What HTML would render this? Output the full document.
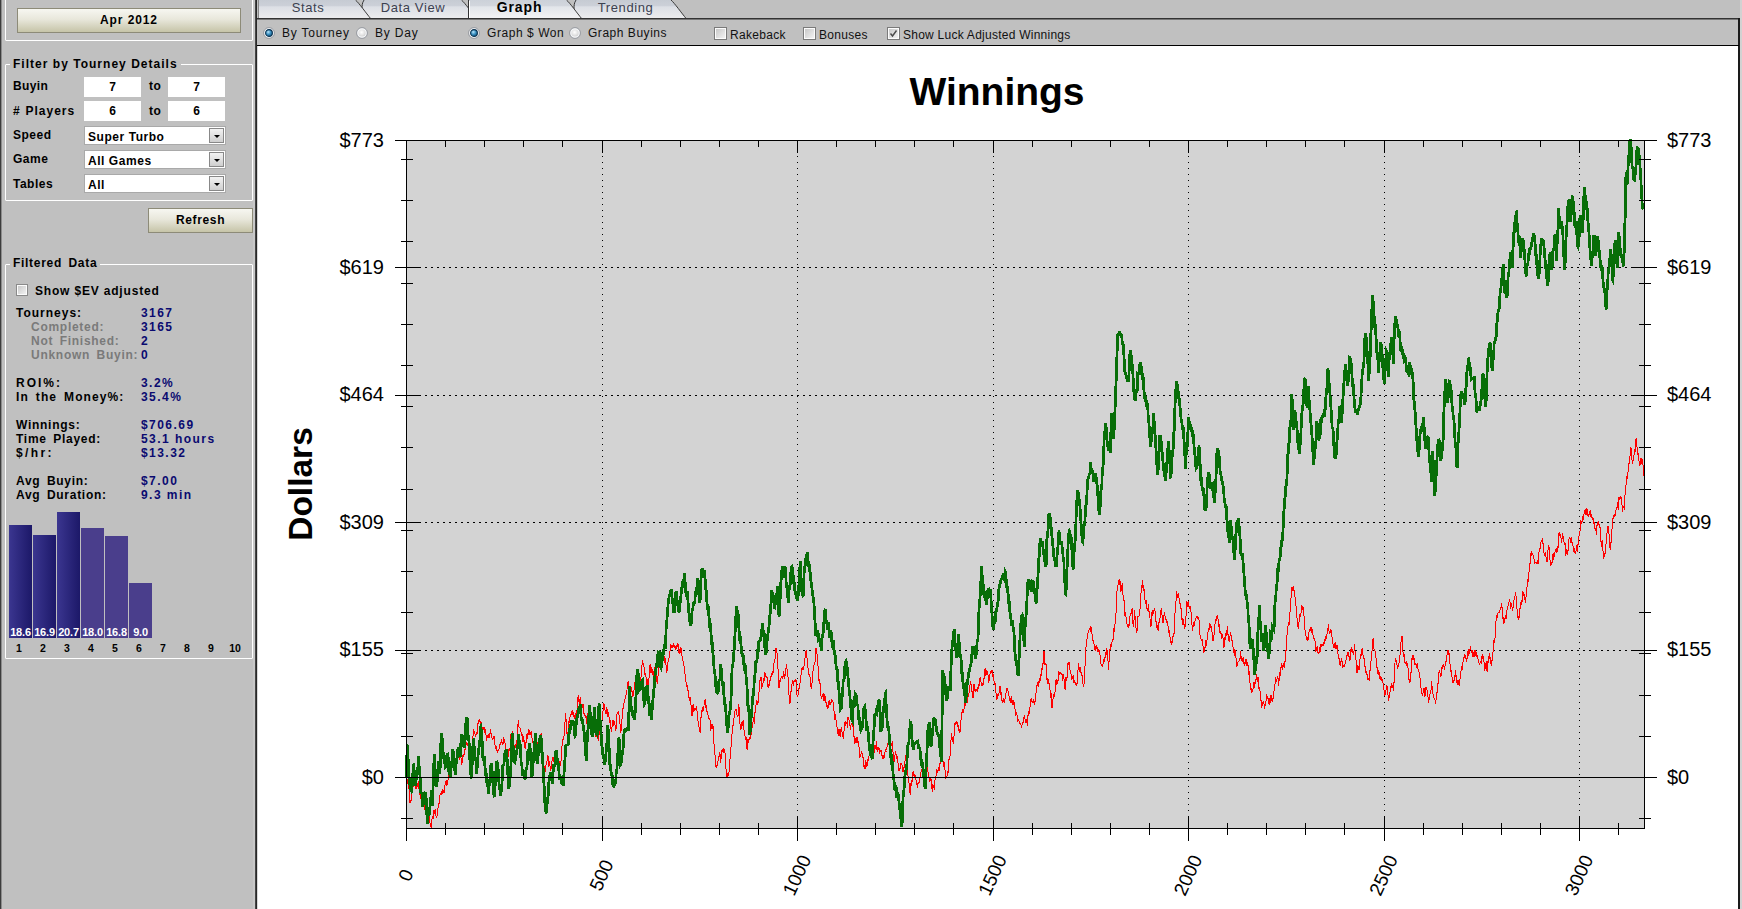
<!DOCTYPE html>
<html><head><meta charset="utf-8">
<style>
*{box-sizing:border-box}
html,body{margin:0;padding:0;width:1742px;height:909px;overflow:hidden;background:#c0c0c0;font-family:'Liberation Sans', sans-serif}
.a{position:absolute}
.b{font-weight:bold;font-size:11px;color:#000;white-space:nowrap}
.grp{position:absolute;border:1px solid #fff;border-radius:1px}
.inp{position:absolute;background:#fff;text-align:center;font:bold 12px 'Liberation Sans', sans-serif;line-height:20px}
.sel{position:absolute;background:#fff;border:1px solid #a9a9a9;font:bold 12px 'Liberation Sans', sans-serif;line-height:17px;padding:2px 0 0 3px}
.dd{position:absolute;right:1px;top:1px;width:15px;height:15px;border:1px solid #888;background:linear-gradient(#f2f2f2,#cfcfcf)}
.dd:after{content:"";position:absolute;left:4px;top:6px;border-left:3px solid transparent;border-right:3px solid transparent;border-top:3px solid #000}
.btn{position:absolute;border:1px solid #8d8b78;background:linear-gradient(#f7f7f1,#e8e7db 45%,#c6c4a8);text-align:center;font:bold 12px 'Liberation Sans', sans-serif;letter-spacing:0.6px}
.lbl{position:absolute;font:bold 12px 'Liberation Sans', sans-serif;line-height:14px;letter-spacing:0.72px;word-spacing:2.5px;white-space:nowrap}
.val{position:absolute;font:bold 12px 'Liberation Sans', sans-serif;line-height:14px;letter-spacing:1.45px;color:#0a0a70;white-space:nowrap}
.sub{color:#7a7a7a}
.tab{position:absolute;top:0;height:18px;font:13px 'Liberation Sans', sans-serif;color:#3a3f50;text-align:center;line-height:16px}
.tb{position:absolute;font:12px 'Liberation Sans', sans-serif;line-height:14px;letter-spacing:0.8px;color:#111;white-space:nowrap}
.chk{position:absolute;width:13px;height:13px;border:1px solid #7a7a7a;padding:1px;background:linear-gradient(135deg,#c9c9c9,#f2f2f2) content-box,#fcfcfc}
.rad{position:absolute;width:12px;height:12px}
</style></head><body>
<!-- left panel -->
<div class="a" style="left:0;top:0;width:1px;height:909px;background:#3c3c3c"></div><div class="a" style="left:1px;top:0;width:1px;height:909px;background:#8c8c8c"></div>
<div class="grp" style="left:5px;top:-10px;width:248px;height:51px"></div>
<div class="btn" style="left:17px;top:8px;width:224px;height:25px;line-height:23px;letter-spacing:0.9px">Apr 2012</div>

<div class="grp" style="left:5px;top:64px;width:248px;height:137px"></div>
<div class="lbl" style="left:10px;top:57px;background:#c0c0c0;padding:0 3px;letter-spacing:1.02px;word-spacing:0">Filter by Tourney Details</div>
<div class="lbl" style="left:13px;top:79px;letter-spacing:0.35px">Buyin</div>
<div class="inp" style="left:84px;top:77px;width:57px;height:20px">7</div>
<div class="lbl" style="left:149px;top:79px;letter-spacing:0.5px">to</div>
<div class="inp" style="left:168px;top:77px;width:57px;height:20px">7</div>
<div class="lbl" style="left:13px;top:104px;letter-spacing:1.0px;word-spacing:0.5px">#&nbsp;Players</div>
<div class="inp" style="left:84px;top:101px;width:57px;height:20px">6</div>
<div class="lbl" style="left:149px;top:104px;letter-spacing:0.5px">to</div>
<div class="inp" style="left:168px;top:101px;width:57px;height:20px">6</div>
<div class="lbl" style="left:13px;top:128px;letter-spacing:0.5px">Speed</div>
<div class="sel" style="left:84px;top:126px;width:142px;height:19px;letter-spacing:0.55px">Super&nbsp;Turbo<div class="dd"></div></div>
<div class="lbl" style="left:13px;top:152px;letter-spacing:0.5px">Game</div>
<div class="sel" style="left:84px;top:150px;width:142px;height:19px;letter-spacing:0.55px">All Games<div class="dd"></div></div>
<div class="lbl" style="left:13px;top:177px;letter-spacing:0.5px">Tables</div>
<div class="sel" style="left:84px;top:174px;width:142px;height:19px;letter-spacing:0.55px">All<div class="dd"></div></div>
<div class="btn" style="left:148px;top:208px;width:105px;height:25px;line-height:23px;letter-spacing:0.65px">Refresh</div>

<div class="grp" style="left:5px;top:264px;width:248px;height:395px"></div>
<div class="lbl" style="left:10px;top:256px;background:#c0c0c0;padding:0 3px;letter-spacing:0.7px">Filtered Data</div>
<div class="chk" style="left:16px;top:284px;width:12px;height:12px;border-color:#8a8a8a"></div>
<div class="lbl" style="left:35px;top:284px;letter-spacing:0.82px;word-spacing:0">Show $EV adjusted</div>
<div class="lbl" style="left:16px;top:306px;letter-spacing:1.0px">Tourneys:</div><div class="val" style="left:141px;top:306px">3167</div>
<div class="lbl sub" style="left:31px;top:320px">Completed:</div><div class="val" style="left:141px;top:320px">3165</div>
<div class="lbl sub" style="left:31px;top:334px">Not Finished:</div><div class="val" style="left:141px;top:334px">2</div>
<div class="lbl sub" style="left:31px;top:348px">Unknown Buyin:</div><div class="val" style="left:141px;top:348px">0</div>
<div class="lbl" style="left:16px;top:376px;letter-spacing:1.97px">ROI%:</div><div class="val" style="left:141px;top:376px">3.2%</div>
<div class="lbl" style="left:16px;top:390px;letter-spacing:1.1px">In the Money%:</div><div class="val" style="left:141px;top:390px">35.4%</div>
<div class="lbl" style="left:16px;top:418px">Winnings:</div><div class="val" style="left:141px;top:418px">$706.69</div>
<div class="lbl" style="left:16px;top:432px">Time Played:</div><div class="val" style="left:141px;top:432px">53.1 hours</div>
<div class="lbl" style="left:16px;top:446px;letter-spacing:2.4px">$/hr:</div><div class="val" style="left:141px;top:446px">$13.32</div>
<div class="lbl" style="left:16px;top:474px">Avg Buyin:</div><div class="val" style="left:141px;top:474px">$7.00</div>
<div class="lbl" style="left:16px;top:488px">Avg Duration:</div><div class="val" style="left:141px;top:488px">9.3 min</div>
<div class="a" style="left:9px;top:525px;width:23px;height:113px;background:linear-gradient(90deg,#3b3690,#1c1868)"></div>
<div class="a" style="left:9px;top:626px;width:23px;text-align:center;font:bold 11px 'Liberation Sans', sans-serif;line-height:13px;color:#fff;letter-spacing:-0.2px">18.6</div>
<div class="a" style="left:33px;top:535px;width:23px;height:103px;background:linear-gradient(90deg,#3b3690,#1c1868)"></div>
<div class="a" style="left:33px;top:626px;width:23px;text-align:center;font:bold 11px 'Liberation Sans', sans-serif;line-height:13px;color:#fff;letter-spacing:-0.2px">16.9</div>
<div class="a" style="left:57px;top:512px;width:23px;height:126px;background:linear-gradient(90deg,#3b3690,#1c1868)"></div>
<div class="a" style="left:57px;top:626px;width:23px;text-align:center;font:bold 11px 'Liberation Sans', sans-serif;line-height:13px;color:#fff;letter-spacing:-0.2px">20.7</div>
<div class="a" style="left:81px;top:528px;width:23px;height:110px;background:#4a3e8c"></div>
<div class="a" style="left:81px;top:626px;width:23px;text-align:center;font:bold 11px 'Liberation Sans', sans-serif;line-height:13px;color:#fff;letter-spacing:-0.2px">18.0</div>
<div class="a" style="left:105px;top:536px;width:23px;height:102px;background:#4a3e8c"></div>
<div class="a" style="left:105px;top:626px;width:23px;text-align:center;font:bold 11px 'Liberation Sans', sans-serif;line-height:13px;color:#fff;letter-spacing:-0.2px">16.8</div>
<div class="a" style="left:129px;top:583px;width:23px;height:55px;background:#4a3e8c"></div>
<div class="a" style="left:129px;top:626px;width:23px;text-align:center;font:bold 11px 'Liberation Sans', sans-serif;line-height:13px;color:#fff;letter-spacing:-0.2px">9.0</div>
<div class="a" style="left:9px;top:642px;width:20px;text-align:center;font:bold 10.5px 'Liberation Sans', sans-serif;line-height:12px;color:#000">1</div>
<div class="a" style="left:33px;top:642px;width:20px;text-align:center;font:bold 10.5px 'Liberation Sans', sans-serif;line-height:12px;color:#000">2</div>
<div class="a" style="left:57px;top:642px;width:20px;text-align:center;font:bold 10.5px 'Liberation Sans', sans-serif;line-height:12px;color:#000">3</div>
<div class="a" style="left:81px;top:642px;width:20px;text-align:center;font:bold 10.5px 'Liberation Sans', sans-serif;line-height:12px;color:#000">4</div>
<div class="a" style="left:105px;top:642px;width:20px;text-align:center;font:bold 10.5px 'Liberation Sans', sans-serif;line-height:12px;color:#000">5</div>
<div class="a" style="left:129px;top:642px;width:20px;text-align:center;font:bold 10.5px 'Liberation Sans', sans-serif;line-height:12px;color:#000">6</div>
<div class="a" style="left:153px;top:642px;width:20px;text-align:center;font:bold 10.5px 'Liberation Sans', sans-serif;line-height:12px;color:#000">7</div>
<div class="a" style="left:177px;top:642px;width:20px;text-align:center;font:bold 10.5px 'Liberation Sans', sans-serif;line-height:12px;color:#000">8</div>
<div class="a" style="left:201px;top:642px;width:20px;text-align:center;font:bold 10.5px 'Liberation Sans', sans-serif;line-height:12px;color:#000">9</div>
<div class="a" style="left:225px;top:642px;width:20px;text-align:center;font:bold 10.5px 'Liberation Sans', sans-serif;line-height:12px;color:#000">10</div>
<!-- main area -->
<div class="a" style="left:253px;top:0;width:2px;height:909px;background:#c8c8c8"></div>
<div class="a" style="left:255px;top:0;width:2px;height:909px;background:linear-gradient(90deg,#555,#1a1a1a)"></div><div class="a" style="left:257px;top:46px;width:1px;height:863px;background:#d8d8d8"></div>
<div class="a" style="left:258px;top:0;width:1484px;height:19px;background:#c0c0c0"></div>
<svg class="a" style="left:0;top:0" width="1742" height="19" viewBox="0 0 1742 19"><defs><linearGradient id="tg" x1="0" y1="0" x2="0" y2="1"><stop offset="0" stop-color="#c6cbd3"/><stop offset="0.3" stop-color="#ccd0d8"/><stop offset="0.36" stop-color="#dcdfe5"/><stop offset="1" stop-color="#ededee"/></linearGradient><linearGradient id="tga" x1="0" y1="0" x2="0" y2="1"><stop offset="0" stop-color="#ccd1d9"/><stop offset="0.3" stop-color="#d2d6dd"/><stop offset="0.36" stop-color="#e2e5ea"/><stop offset="1" stop-color="#f4f4f5"/></linearGradient></defs>
<path d="M574 19 V0 H671.0 C674.5 3 681.5 13 686.5 19 Z" fill="url(#tg)"/>
<path d="M576 0 C574 3 574 6 574 9" stroke="#333" stroke-width="1" fill="none"/>
<path d="M671.0 0 C674.5 3 681.5 13 686.5 19" stroke="#3a3a3a" stroke-width="1" fill="none"/>
<path d="M362 19 V0 H461.5 C465.0 3 472 13 477 19 Z" fill="url(#tg)"/>
<path d="M364 0 C362 3 362 6 362 9" stroke="#333" stroke-width="1" fill="none"/>
<path d="M461.5 0 C465.0 3 472 13 477 19" stroke="#3a3a3a" stroke-width="1" fill="none"/>
<path d="M258 19 V0 H355.5 C359.0 3 366 13 371 19 Z" fill="url(#tg)"/>
<path d="M258.5 19 V0" stroke="#888" stroke-width="1" fill="none"/>
<path d="M355.5 0 C359.0 3 366 13 371 19" stroke="#3a3a3a" stroke-width="1" fill="none"/>
<path d="M468 19 V0 H566.5 C570.0 3 577 13 582 19 Z" fill="url(#tga)"/>
<path d="M468.5 19 V0" stroke="#333" stroke-width="1" fill="none"/><path d="M469.5 19 V1" stroke="#fff" stroke-width="1" fill="none"/>
<path d="M566.5 0 C570.0 3 577 13 582 19" stroke="#3a3a3a" stroke-width="1" fill="none"/>
</svg>
<div class="a" style="left:575.6px;top:-1px;width:100px;text-align:center;font:13px 'Liberation Sans', sans-serif;letter-spacing:0.6px;line-height:17px;color:#3c4150">Trending</div>
<div class="a" style="left:363px;top:-1px;width:100px;text-align:center;font:13px 'Liberation Sans', sans-serif;letter-spacing:0.6px;line-height:17px;color:#3c4150">Data View</div>
<div class="a" style="left:258px;top:-1px;width:100px;text-align:center;font:13px 'Liberation Sans', sans-serif;letter-spacing:0.6px;line-height:17px;color:#3c4150">Stats</div>
<div class="a" style="left:469.5px;top:-1px;width:100px;text-align:center;font:bold 14px 'Liberation Sans', sans-serif;letter-spacing:0.9px;line-height:17px;color:#000">Graph</div>
<div class="a" style="left:257px;top:18px;width:1483px;height:1px;background:#333"></div><div class="a" style="left:257px;top:19px;width:1483px;height:1px;background:#777"></div>
<div class="a" style="left:257px;top:20px;width:1482px;height:25px;background:#c0c0c0"></div>
<div class="a" style="left:1738px;top:18px;width:2px;height:891px;background:#1a1a1a"></div>
<div class="a" style="left:1740px;top:0;width:2px;height:909px;background:#d2d2d2"></div>
<div class="a" style="left:257px;top:45px;width:1482px;height:1px;background:#000"></div>
<div class="a" style="left:258px;top:46px;width:1480px;height:863px;background:#fff"></div>
<svg width="0" height="0" style="position:absolute"><defs><radialGradient id="rgon" cx="0.4" cy="0.35" r="0.7"><stop offset="0" stop-color="#b8e4fa"/><stop offset="0.5" stop-color="#3d93c4"/><stop offset="1" stop-color="#125580"/></radialGradient><radialGradient id="rgoff" cx="0.45" cy="0.4" r="0.7"><stop offset="0" stop-color="#ffffff"/><stop offset="0.6" stop-color="#e2e2e2"/><stop offset="1" stop-color="#c8c8c8"/></radialGradient></defs></svg>
<svg class="rad" style="left:263px;top:27px" width="12" height="12" viewBox="0 0 12 12"><circle cx="6" cy="6" r="5.4" fill="#f4f6f8" stroke="#8c9096" stroke-width="0.9"/><circle cx="6" cy="6" r="3.4" fill="url(#rgon)" stroke="#0b324f" stroke-width="1.1"/></svg><div class="tb" style="left:282px;top:26px">By Tourney</div>
<svg class="rad" style="left:356px;top:27px" width="12" height="12" viewBox="0 0 12 12"><circle cx="6" cy="6" r="5.4" fill="#f4f6f8" stroke="#8c9096" stroke-width="0.9"/><circle cx="6" cy="6" r="3.6" fill="url(#rgoff)"/></svg><div class="tb" style="left:375px;top:26px">By Day</div>
<svg class="rad" style="left:468px;top:27px" width="12" height="12" viewBox="0 0 12 12"><circle cx="6" cy="6" r="5.4" fill="#f4f6f8" stroke="#8c9096" stroke-width="0.9"/><circle cx="6" cy="6" r="3.4" fill="url(#rgon)" stroke="#0b324f" stroke-width="1.1"/></svg><div class="tb" style="left:487px;top:26px;letter-spacing:0.56px">Graph $ Won</div>
<svg class="rad" style="left:569px;top:27px" width="12" height="12" viewBox="0 0 12 12"><circle cx="6" cy="6" r="5.4" fill="#f4f6f8" stroke="#8c9096" stroke-width="0.9"/><circle cx="6" cy="6" r="3.6" fill="url(#rgoff)"/></svg><div class="tb" style="left:588px;top:26px;letter-spacing:0.53px">Graph Buyins</div>
<div class="chk" style="left:714px;top:27px"></div><div class="tb" style="left:730px;top:28px;letter-spacing:0.3px">Rakeback</div>
<div class="chk" style="left:803px;top:27px"></div><div class="tb" style="left:819px;top:28px;letter-spacing:0.3px">Bonuses</div>
<div class="chk" style="left:887px;top:27px"></div><svg class="a" style="left:887px;top:27px" width="13" height="13" viewBox="0 0 13 13"><path d="M3.5 6.5 L5.5 9 L9.5 3.5" stroke="#4a4a4a" stroke-width="1.4" fill="none"/></svg><div class="tb" style="left:903px;top:28px;letter-spacing:0.25px">Show Luck Adjusted Winnings</div>
<svg class="a" style="left:0;top:0" width="1742" height="909" viewBox="0 0 1742 909" shape-rendering="crispEdges">
<rect x="406.5" y="140.5" width="1238.0" height="688.0" fill="#d3d3d3"/>
<line x1="602.5" y1="144" x2="602.5" y2="828.5" stroke="#000" stroke-width="1" stroke-dasharray="1 5"/>
<line x1="797.5" y1="144" x2="797.5" y2="828.5" stroke="#000" stroke-width="1" stroke-dasharray="1 5"/>
<line x1="993.5" y1="144" x2="993.5" y2="828.5" stroke="#000" stroke-width="1" stroke-dasharray="1 5"/>
<line x1="1188.5" y1="144" x2="1188.5" y2="828.5" stroke="#000" stroke-width="1" stroke-dasharray="1 5"/>
<line x1="1384.5" y1="144" x2="1384.5" y2="828.5" stroke="#000" stroke-width="1" stroke-dasharray="1 5"/>
<line x1="1579.5" y1="144" x2="1579.5" y2="828.5" stroke="#000" stroke-width="1" stroke-dasharray="1 5"/>
<line x1="407" y1="650.5" x2="1644.5" y2="650.5" stroke="#000" stroke-width="1" stroke-dasharray="2 4"/>
<line x1="407" y1="522.5" x2="1644.5" y2="522.5" stroke="#000" stroke-width="1" stroke-dasharray="2 4"/>
<line x1="407" y1="395.5" x2="1644.5" y2="395.5" stroke="#000" stroke-width="1" stroke-dasharray="2 4"/>
<line x1="407" y1="267.5" x2="1644.5" y2="267.5" stroke="#000" stroke-width="1" stroke-dasharray="2 4"/>
<polyline points="406.5,777.5 406.8,775.2 407.1,780.0 407.5,779.5 407.9,784.1 408.2,782.7 408.6,788.5 409.0,788.6 409.4,795.1 409.8,802.6 410.3,801.3 410.7,802.2 411.1,800.0 411.5,791.9 411.8,791.0 412.2,786.7 412.6,785.5 412.9,786.3 413.3,785.7 413.7,787.4 414.1,785.1 414.5,782.9 414.9,783.2 415.3,785.4 415.7,788.4 416.1,788.6 416.5,784.7 416.8,781.6 417.2,784.5 417.6,782.6 417.9,786.8 418.3,781.4 418.7,786.6 419.1,789.4 419.5,794.2 419.9,793.6 420.4,796.9 420.8,798.8 421.2,799.9 421.6,797.8 422.0,795.0 422.4,795.4 422.8,798.9 423.2,801.3 423.5,803.7 423.9,806.4 424.3,803.3 424.7,808.6 425.1,810.4 425.5,809.3 425.8,809.0 426.2,814.0 426.6,816.2 427.0,812.0 427.4,818.5 427.8,812.5 428.2,817.6 428.6,819.8 429.1,815.4 429.5,818.9 429.9,822.5 430.3,825.3 430.7,826.7 431.1,827.0 431.5,824.6 431.9,819.5 432.3,817.2 432.8,818.5 433.2,814.9 433.6,818.6 434.0,810.0 434.4,813.5 434.7,811.8 435.1,809.1 435.5,813.4 435.9,815.8 436.2,817.3 436.6,817.0 437.0,816.0 437.4,810.2 437.8,809.3 438.2,807.3 438.6,802.7 439.0,804.0 439.4,795.7 439.8,795.4 440.2,794.5 440.7,794.5 441.1,793.2 441.5,794.1 441.9,791.4 442.3,789.2 442.7,792.0 443.2,790.8 443.6,791.1 444.0,793.0 444.4,787.4 444.8,788.4 445.3,780.6 445.7,782.5 446.1,780.0 446.5,783.5 446.8,785.0 447.2,784.9 447.6,783.5 447.9,781.5 448.3,774.3 448.7,772.3 449.1,769.1 449.5,766.6 449.8,766.1 450.2,763.3 450.6,763.8 451.0,762.9 451.4,761.3 451.8,762.6 452.1,764.2 452.5,759.5 452.9,758.4 453.3,768.6 453.7,767.6 454.1,768.1 454.5,764.0 454.9,766.3 455.3,770.6 455.7,771.6 456.1,770.0 456.5,769.1 456.9,761.4 457.3,761.0 457.7,757.5 458.1,756.5 458.5,755.3 458.8,753.7 459.2,758.5 459.6,759.3 460.0,754.6 460.4,754.3 460.8,757.3 461.2,758.1 461.6,763.8 462.0,763.3 462.4,758.0 462.8,755.0 463.2,757.1 463.6,754.4 464.0,755.7 464.4,749.9 464.8,750.7 465.2,749.3 465.7,745.6 466.1,743.1 466.5,741.7 466.9,744.3 467.3,744.8 467.7,743.8 468.0,744.0 468.4,746.8 468.8,748.1 469.2,753.8 469.6,751.0 470.0,753.5 470.3,753.7 470.7,751.1 471.1,752.9 471.5,750.9 471.9,749.4 472.3,746.3 472.8,738.3 473.2,734.0 473.6,730.5 474.0,731.4 474.4,731.4 474.8,731.5 475.3,736.5 475.7,736.3 476.1,734.3 476.5,733.5 476.9,734.5 477.3,733.3 477.7,725.7 478.1,722.5 478.5,724.3 478.9,719.9 479.3,721.2 479.7,720.0 480.1,721.7 480.4,729.0 480.8,726.0 481.2,723.2 481.5,722.3 481.9,728.6 482.2,727.5 482.6,729.6 482.9,729.2 483.3,729.5 483.7,727.9 484.1,726.7 484.5,730.3 485.0,733.2 485.4,728.8 485.8,731.0 486.2,738.2 486.6,741.0 487.0,736.2 487.4,737.2 487.8,736.5 488.2,733.8 488.6,735.6 489.1,738.4 489.5,735.0 489.9,733.9 490.3,731.0 490.7,729.5 491.1,735.6 491.5,734.7 491.9,737.3 492.4,738.8 492.8,739.7 493.2,736.4 493.6,739.2 494.0,736.0 494.4,741.3 494.8,743.8 495.2,747.0 495.6,748.2 496.1,748.0 496.5,747.3 496.9,750.1 497.3,752.6 497.7,751.9 498.1,749.3 498.5,750.3 499.0,749.2 499.4,748.0 499.8,745.5 500.2,743.8 500.6,744.4 501.0,742.6 501.4,739.0 501.7,740.9 502.1,742.9 502.5,743.6 502.9,745.0 503.3,741.1 503.6,738.4 504.0,738.9 504.4,739.4 504.8,739.3 505.2,745.2 505.6,742.9 506.0,751.4 506.4,752.0 506.8,754.3 507.2,754.9 507.6,754.5 508.0,757.6 508.4,751.0 508.8,749.8 509.2,750.3 509.5,749.3 509.9,749.1 510.3,744.1 510.7,737.7 511.1,733.1 511.5,736.7 511.8,737.7 512.2,731.5 512.6,737.3 513.0,739.4 513.4,743.4 513.8,747.1 514.2,751.9 514.7,746.3 515.1,746.8 515.5,744.4 515.9,747.8 516.3,746.8 516.7,743.5 517.1,739.3 517.5,728.7 517.9,725.8 518.3,719.6 518.7,724.7 519.1,727.7 519.5,727.8 519.9,726.9 520.4,731.1 520.8,729.7 521.2,733.9 521.6,735.1 522.0,734.5 522.4,735.7 522.8,741.7 523.1,736.1 523.5,738.7 523.9,741.2 524.3,740.2 524.6,745.2 525.0,747.5 525.4,749.3 525.8,743.0 526.2,742.2 526.6,735.0 527.0,733.9 527.5,738.6 527.9,732.7 528.3,735.2 528.7,728.7 529.1,730.5 529.5,734.6 529.9,731.2 530.3,733.9 530.8,732.8 531.2,732.3 531.6,736.8 532.0,738.1 532.4,741.0 532.8,742.7 533.2,742.8 533.6,747.0 534.0,746.2 534.5,744.0 534.9,742.9 535.3,744.2 535.7,744.6 536.1,736.0 536.5,736.7 536.9,739.1 537.3,749.0 537.7,747.9 538.1,747.9 538.5,744.8 538.9,745.5 539.3,740.3 539.7,738.4 540.1,739.0 540.4,734.7 540.8,734.7 541.2,733.3 541.6,738.5 542.0,744.9 542.4,753.2 542.8,754.6 543.2,757.8 543.6,766.9 544.0,765.6 544.4,772.4 544.8,768.9 545.2,772.3 545.6,766.6 546.0,764.9 546.5,764.0 546.9,762.8 547.3,755.8 547.7,755.9 548.1,756.5 548.5,763.3 548.9,767.0 549.4,761.1 549.8,763.2 550.2,768.6 550.6,769.9 551.0,769.1 551.4,764.3 551.8,762.9 552.2,759.6 552.6,758.5 553.1,757.3 553.5,761.6 553.9,758.1 554.3,759.2 554.7,756.3 555.1,758.2 555.4,762.7 555.8,761.7 556.2,758.5 556.6,759.5 556.9,760.5 557.3,759.3 557.7,761.7 558.1,762.8 558.4,766.1 558.8,762.3 559.2,765.8 559.6,767.3 560.0,761.5 560.5,765.5 560.9,763.3 561.3,755.9 561.7,749.3 562.1,745.4 562.5,741.9 562.9,739.8 563.3,739.6 563.8,737.6 564.2,735.2 564.6,730.6 565.0,722.3 565.4,718.5 565.8,713.0 566.2,724.3 566.6,724.1 567.1,736.2 567.5,734.5 567.9,732.5 568.3,731.3 568.6,726.2 569.0,721.5 569.4,723.3 569.8,718.3 570.1,716.7 570.5,715.6 570.9,716.6 571.3,710.9 571.6,714.3 572.0,712.4 572.4,714.7 572.8,710.1 573.2,714.3 573.6,714.3 574.0,717.3 574.5,715.5 574.9,718.8 575.3,719.3 575.7,713.0 576.1,717.9 576.5,711.9 577.0,709.7 577.4,705.3 577.8,700.0 578.2,694.9 578.6,698.2 579.0,701.7 579.4,705.0 579.8,699.5 580.2,702.5 580.6,697.4 581.0,704.7 581.4,705.3 581.8,708.5 582.2,707.7 582.6,707.4 583.0,704.2 583.4,710.4 583.8,710.7 584.2,716.0 584.5,714.6 584.9,715.6 585.3,715.7 585.7,716.8 586.1,716.5 586.4,720.2 586.8,723.9 587.2,719.8 587.6,717.9 588.0,712.9 588.4,716.3 588.8,711.5 589.2,712.7 589.6,712.9 590.0,712.3 590.4,707.4 590.8,715.3 591.2,716.7 591.6,721.0 592.0,726.6 592.4,725.0 592.8,723.5 593.2,728.8 593.6,734.8 594.0,731.2 594.4,730.1 594.8,732.7 595.1,731.4 595.5,735.3 595.9,736.6 596.3,735.6 596.7,737.2 597.1,734.8 597.5,738.5 597.9,733.3 598.3,734.9 598.7,740.8 599.1,731.7 599.5,734.8 599.9,726.7 600.3,723.5 600.7,725.8 601.1,725.6 601.5,723.8 601.9,721.1 602.3,717.6 602.7,715.2 603.1,710.4 603.5,708.2 603.9,702.8 604.3,707.7 604.7,706.4 605.2,711.9 605.6,713.4 606.0,713.8 606.4,708.8 606.8,706.7 607.2,710.6 607.6,714.0 608.0,716.7 608.4,712.5 608.8,714.8 609.1,717.7 609.5,719.8 609.9,722.5 610.3,720.8 610.7,721.6 611.1,730.5 611.5,731.0 611.9,728.1 612.3,724.2 612.6,722.6 613.0,719.7 613.4,725.7 613.8,721.0 614.2,724.7 614.6,722.0 614.9,722.5 615.3,730.4 615.7,729.3 616.1,728.2 616.5,717.2 616.9,714.9 617.2,713.1 617.6,712.5 618.0,712.3 618.4,711.8 618.8,711.8 619.2,717.8 619.6,720.1 620.0,723.6 620.4,729.2 620.8,732.9 621.2,730.0 621.6,722.7 622.0,719.3 622.4,709.9 622.8,712.7 623.1,706.5 623.5,709.0 623.9,703.8 624.3,699.9 624.7,701.0 625.1,698.3 625.5,695.5 625.9,694.9 626.3,694.3 626.6,692.0 627.0,689.6 627.4,683.6 627.8,683.4 628.2,681.0 628.5,686.2 628.9,694.0 629.3,701.0 629.7,695.8 630.1,693.6 630.5,692.1 630.9,685.7 631.3,690.2 631.7,691.7 632.1,691.7 632.5,696.5 632.9,696.3 633.3,693.2 633.7,692.2 634.2,688.6 634.6,688.4 635.0,681.8 635.4,681.6 635.8,678.6 636.2,677.3 636.6,676.2 637.0,676.0 637.4,670.1 637.8,672.5 638.2,672.0 638.6,678.5 639.0,678.7 639.4,682.3 639.8,682.4 640.2,682.2 640.6,678.1 641.0,676.7 641.4,674.9 641.8,666.1 642.2,664.7 642.6,661.8 643.0,662.6 643.4,665.8 643.8,664.4 644.1,668.3 644.5,672.3 644.9,674.6 645.3,673.1 645.7,673.2 646.1,678.6 646.5,685.2 646.9,690.4 647.2,685.5 647.6,678.7 648.0,686.1 648.4,682.5 648.7,681.2 649.1,677.1 649.4,670.0 649.8,665.5 650.2,665.2 650.6,670.2 651.0,673.0 651.4,669.5 651.8,666.7 652.2,670.1 652.6,673.0 653.0,674.6 653.4,676.5 653.8,672.7 654.2,670.3 654.6,672.8 655.0,667.0 655.4,669.3 655.8,671.0 656.2,672.9 656.6,675.5 657.0,681.9 657.4,682.5 657.8,679.3 658.2,672.9 658.6,664.6 659.0,664.6 659.3,667.3 659.7,661.1 660.1,661.3 660.5,658.5 660.9,657.2 661.3,657.6 661.7,657.4 662.1,652.8 662.5,655.1 662.9,654.3 663.3,648.3 663.7,651.7 664.0,657.9 664.4,657.2 664.8,663.4 665.2,658.5 665.6,658.3 665.9,663.5 666.3,668.7 666.7,671.2 667.1,670.3 667.5,664.2 667.9,662.0 668.3,660.7 668.8,659.4 669.2,656.1 669.6,654.4 670.0,651.2 670.4,648.7 670.8,644.3 671.2,647.5 671.6,645.3 672.0,645.1 672.4,646.4 672.8,648.4 673.1,644.8 673.5,644.0 673.9,646.0 674.3,645.6 674.7,646.8 675.1,648.7 675.5,649.2 675.9,647.0 676.3,647.4 676.7,649.1 677.1,644.4 677.5,646.9 677.9,643.1 678.3,646.0 678.7,649.8 679.1,653.7 679.5,651.2 679.9,649.7 680.2,647.2 680.6,650.8 681.0,652.9 681.4,648.2 681.8,652.5 682.2,658.3 682.6,658.1 683.0,661.0 683.4,665.0 683.8,664.6 684.1,666.3 684.5,671.4 684.9,673.4 685.3,676.5 685.7,677.2 686.1,683.6 686.5,684.9 686.9,686.4 687.3,685.1 687.7,689.8 688.0,690.4 688.4,690.6 688.8,695.6 689.2,700.6 689.6,697.7 690.0,697.0 690.4,701.8 690.8,701.2 691.2,707.8 691.6,708.3 691.9,716.3 692.3,713.9 692.7,708.2 693.1,704.1 693.5,712.2 693.9,710.7 694.2,710.2 694.6,709.3 695.0,707.8 695.4,709.4 695.8,710.0 696.2,707.9 696.6,706.1 697.0,710.9 697.4,714.4 697.8,718.0 698.1,722.5 698.5,721.9 698.9,725.1 699.3,731.0 699.7,728.3 700.1,733.1 700.5,724.6 700.9,718.7 701.3,714.3 701.7,711.6 702.1,709.0 702.5,708.1 702.9,711.7 703.2,710.0 703.6,709.4 704.0,705.7 704.4,700.8 704.8,701.0 705.2,699.1 705.6,703.0 706.0,707.5 706.4,705.2 706.7,711.9 707.1,711.8 707.5,714.5 707.9,714.9 708.3,716.1 708.6,718.1 709.0,718.0 709.4,719.5 709.8,718.7 710.2,721.5 710.5,724.2 710.9,730.7 711.3,725.2 711.7,724.0 712.1,728.5 712.4,724.7 712.8,724.3 713.2,727.1 713.6,737.1 714.0,743.7 714.5,749.4 714.9,753.4 715.3,760.2 715.7,765.1 716.1,767.4 716.5,766.2 716.9,766.8 717.3,764.8 717.7,762.0 718.1,760.1 718.4,758.2 718.8,756.9 719.2,756.0 719.6,751.7 720.0,753.8 720.4,756.0 720.8,762.5 721.2,755.8 721.6,752.4 722.0,750.6 722.4,749.1 722.8,750.8 723.2,749.4 723.6,748.3 724.0,752.4 724.3,753.3 724.7,749.2 725.1,754.1 725.5,763.5 725.9,769.1 726.3,770.1 726.7,776.4 727.1,777.7 727.5,774.4 727.9,773.2 728.3,775.7 728.7,774.0 729.1,770.8 729.5,763.9 729.8,762.5 730.2,756.6 730.6,754.2 731.0,747.2 731.4,742.1 731.8,736.6 732.2,732.2 732.6,724.9 733.0,726.0 733.4,725.4 733.8,721.0 734.3,714.0 734.7,714.6 735.1,710.4 735.5,709.2 735.9,709.4 736.3,709.4 736.7,712.3 737.0,715.3 737.4,715.2 737.8,716.0 738.2,715.3 738.6,704.8 738.9,704.8 739.3,712.0 739.7,717.0 740.1,726.5 740.5,726.8 740.8,729.9 741.2,727.7 741.6,725.0 742.0,722.0 742.4,723.6 742.7,726.3 743.1,719.6 743.5,722.0 743.9,728.1 744.3,733.9 744.6,732.4 745.0,736.0 745.4,740.1 745.8,738.4 746.2,737.4 746.5,748.1 746.9,748.7 747.3,749.9 747.7,741.9 748.0,738.6 748.4,742.1 748.8,742.3 749.2,738.2 749.5,737.1 749.9,737.2 750.3,738.6 750.7,734.5 751.0,735.1 751.4,732.2 751.8,729.8 752.2,726.2 752.6,722.7 752.9,723.8 753.3,717.0 753.7,717.0 754.1,723.5 754.5,717.5 754.9,713.5 755.2,710.3 755.6,712.8 756.0,704.8 756.4,703.8 756.8,700.5 757.2,704.4 757.5,700.7 757.9,704.7 758.3,698.4 758.7,696.7 759.1,690.9 759.5,686.9 759.9,680.6 760.3,677.2 760.7,680.6 761.1,676.8 761.4,683.5 761.8,687.2 762.2,686.3 762.6,684.3 763.0,683.5 763.4,678.9 763.8,679.0 764.2,679.6 764.6,673.0 765.0,673.4 765.4,675.7 765.8,676.1 766.2,677.4 766.5,677.7 766.9,676.3 767.3,680.2 767.7,685.3 768.1,684.5 768.5,687.5 768.9,684.0 769.3,686.4 769.7,681.5 770.0,679.6 770.4,680.9 770.8,677.2 771.2,675.3 771.6,676.8 771.9,672.9 772.3,672.1 772.7,673.9 773.1,672.7 773.5,667.8 773.8,664.3 774.2,661.3 774.6,659.3 775.0,659.3 775.4,651.8 775.7,649.4 776.1,648.0 776.5,651.1 776.9,652.4 777.3,655.8 777.8,665.3 778.2,671.5 778.6,681.7 779.0,688.0 779.4,682.9 779.7,679.9 780.1,681.4 780.5,681.1 780.9,678.9 781.2,676.6 781.6,677.5 782.0,678.0 782.4,677.2 782.7,678.1 783.1,676.8 783.5,671.3 783.9,672.8 784.2,675.3 784.6,678.5 785.0,676.6 785.4,670.8 785.7,670.6 786.1,666.9 786.5,664.4 786.9,668.8 787.2,670.1 787.6,674.3 788.0,676.6 788.4,683.4 788.7,690.2 789.1,695.9 789.5,703.9 789.9,698.2 790.3,702.6 790.7,692.8 791.0,691.6 791.4,691.3 791.8,686.1 792.2,682.7 792.6,681.2 793.0,682.2 793.3,685.8 793.7,684.0 794.1,679.9 794.5,681.2 794.9,680.9 795.2,680.1 795.6,682.1 796.0,680.0 796.4,686.3 796.7,692.8 797.1,695.5 797.5,696.0 797.9,695.0 798.3,693.9 798.7,690.4 799.1,687.4 799.5,688.1 799.8,684.2 800.2,681.2 800.6,678.9 801.0,674.7 801.4,674.8 801.8,668.3 802.2,669.4 802.5,669.7 802.9,667.5 803.3,668.3 803.7,669.9 804.0,666.4 804.4,664.1 804.8,659.9 805.2,656.6 805.6,653.1 805.9,651.3 806.3,650.9 806.7,656.3 807.1,659.0 807.5,663.8 807.8,664.5 808.2,671.7 808.6,673.7 809.0,674.6 809.4,675.2 809.7,676.8 810.1,677.0 810.5,679.2 810.9,686.7 811.2,688.5 811.6,687.5 812.0,682.7 812.4,679.7 812.8,673.6 813.2,668.3 813.6,666.1 814.0,664.7 814.4,663.6 814.8,664.8 815.2,658.9 815.6,654.1 816.0,648.4 816.4,649.8 816.8,652.4 817.1,654.4 817.5,661.6 817.9,662.8 818.3,675.1 818.6,672.9 819.0,680.5 819.4,680.0 819.8,683.2 820.2,683.9 820.5,688.7 820.9,695.2 821.3,698.6 821.7,698.2 822.1,696.7 822.5,695.7 822.9,694.6 823.2,694.2 823.6,696.2 824.0,701.0 824.4,700.5 824.8,695.4 825.2,696.0 825.6,702.1 826.0,701.8 826.4,706.3 826.8,705.7 827.2,704.6 827.6,708.6 828.0,705.6 828.4,707.5 828.8,701.5 829.2,701.2 829.6,703.6 830.0,703.0 830.3,701.7 830.7,704.6 831.1,702.5 831.5,699.7 831.9,699.4 832.2,700.2 832.6,701.8 833.0,702.2 833.4,707.3 833.7,710.3 834.1,710.8 834.5,719.7 834.9,714.9 835.3,716.1 835.7,714.0 836.1,721.7 836.5,723.1 836.8,726.3 837.2,728.1 837.6,733.5 838.0,732.1 838.4,735.6 838.8,729.0 839.2,730.1 839.6,733.2 840.0,735.4 840.3,736.6 840.7,729.5 841.1,729.0 841.5,727.1 841.9,731.4 842.3,732.4 842.7,733.9 843.1,737.5 843.4,738.5 843.8,733.1 844.2,729.6 844.6,721.7 845.0,725.0 845.4,725.0 845.8,721.4 846.1,723.7 846.5,723.0 846.9,722.6 847.3,727.7 847.6,721.5 848.0,717.2 848.4,717.5 848.8,717.4 849.2,721.9 849.5,721.3 849.9,723.8 850.3,730.3 850.7,727.5 851.1,724.5 851.5,723.9 851.9,725.0 852.2,723.1 852.6,725.8 853.0,725.0 853.4,730.7 853.8,734.3 854.2,738.4 854.6,740.9 855.0,743.5 855.3,739.8 855.7,740.8 856.1,736.6 856.5,742.9 856.9,740.9 857.3,738.1 857.7,736.9 858.1,744.6 858.5,741.2 858.9,747.1 859.3,747.9 859.7,757.0 860.1,756.5 860.4,755.0 860.8,755.2 861.2,753.6 861.6,751.5 862.0,754.2 862.4,752.9 862.8,756.2 863.2,758.6 863.6,762.0 864.0,766.5 864.4,769.4 864.8,765.4 865.2,769.1 865.5,759.9 865.9,763.4 866.3,766.8 866.7,762.4 867.1,765.9 867.5,758.7 867.9,761.4 868.3,759.2 868.6,757.4 869.0,756.1 869.4,753.4 869.8,755.1 870.2,754.1 870.6,753.0 871.0,752.3 871.4,750.1 871.8,745.8 872.1,746.9 872.5,748.8 872.9,743.9 873.3,746.2 873.7,749.6 874.1,749.2 874.5,753.3 874.9,745.0 875.2,748.8 875.6,745.3 876.0,745.4 876.4,741.4 876.8,748.8 877.2,748.3 877.6,751.5 877.9,747.4 878.3,747.3 878.7,749.6 879.1,750.1 879.5,748.5 879.8,754.4 880.2,750.1 880.6,751.2 881.0,751.6 881.4,751.2 881.8,754.3 882.1,756.0 882.5,756.3 882.9,759.4 883.3,756.5 883.7,755.7 884.1,757.4 884.5,755.5 884.9,753.1 885.3,748.6 885.7,750.7 886.1,751.4 886.5,750.5 886.9,748.9 887.3,743.5 887.7,743.4 888.1,744.1 888.5,739.8 888.9,736.2 889.3,735.4 889.7,741.6 890.1,742.4 890.5,737.1 890.8,741.1 891.2,743.8 891.6,745.8 892.0,743.6 892.4,742.8 892.8,749.9 893.2,753.3 893.6,768.5 894.0,762.0 894.4,757.0 894.8,756.0 895.2,753.3 895.6,751.4 896.0,754.3 896.4,759.2 896.8,754.7 897.1,757.1 897.5,760.4 897.9,761.7 898.3,766.7 898.7,771.0 899.1,768.7 899.5,769.6 899.9,770.9 900.3,765.2 900.7,762.8 901.1,764.6 901.5,764.3 901.9,762.8 902.3,769.9 902.7,770.5 903.0,772.1 903.4,767.5 903.8,770.0 904.2,766.9 904.6,764.7 905.0,761.6 905.4,755.7 905.8,756.0 906.2,754.7 906.6,760.4 907.0,760.6 907.4,767.8 907.8,771.9 908.2,778.8 908.6,777.9 909.0,782.8 909.4,788.2 909.8,792.1 910.2,794.6 910.6,793.4 911.0,783.1 911.3,785.7 911.7,782.2 912.1,779.4 912.5,781.5 912.8,773.3 913.2,771.5 913.6,774.7 914.0,775.6 914.3,775.6 914.7,773.8 915.1,777.6 915.5,775.4 915.8,776.7 916.2,782.6 916.6,782.6 917.0,785.3 917.3,787.2 917.7,786.1 918.1,782.5 918.5,782.7 918.8,783.2 919.2,782.8 919.6,779.8 920.0,778.1 920.4,777.4 920.8,775.8 921.2,769.0 921.6,771.0 922.0,769.4 922.4,769.1 922.8,761.9 923.2,762.8 923.6,767.9 924.0,769.4 924.4,773.0 924.7,770.7 925.1,771.0 925.5,770.5 925.9,772.5 926.2,772.8 926.6,773.5 927.0,770.1 927.4,765.7 927.7,765.4 928.1,773.8 928.5,772.0 928.9,775.3 929.3,781.4 929.7,780.8 930.1,776.7 930.5,779.5 930.9,780.9 931.3,779.5 931.7,786.2 932.1,790.2 932.5,791.7 932.9,784.3 933.2,786.0 933.6,787.2 934.0,787.4 934.4,790.3 934.8,784.1 935.1,778.0 935.5,778.3 935.9,777.2 936.2,774.4 936.6,770.0 937.0,770.9 937.4,771.0 937.8,773.2 938.2,768.5 938.6,767.9 938.9,768.5 939.3,771.2 939.7,764.7 940.1,763.2 940.5,760.2 940.9,759.4 941.3,758.1 941.7,758.8 942.1,760.7 942.5,760.8 942.8,759.8 943.2,762.1 943.6,766.1 944.0,765.5 944.4,762.0 944.8,768.2 945.2,771.5 945.6,779.1 946.0,777.8 946.4,776.6 946.8,776.1 947.2,775.9 947.5,771.0 947.9,774.0 948.3,769.0 948.7,759.5 949.1,759.4 949.5,755.9 949.9,756.9 950.3,753.0 950.7,747.7 951.0,739.9 951.4,734.9 951.8,733.3 952.2,740.0 952.5,741.7 952.9,738.9 953.3,742.9 953.7,743.1 954.0,736.0 954.4,729.3 954.8,723.4 955.2,722.8 955.6,724.2 956.0,723.5 956.4,723.0 956.8,721.1 957.2,723.0 957.6,727.1 958.0,724.8 958.4,730.5 958.8,728.9 959.2,729.3 959.6,732.7 960.0,732.3 960.4,730.1 960.8,721.0 961.2,718.9 961.6,715.2 962.0,712.0 962.4,713.4 962.8,709.1 963.2,712.9 963.6,710.7 964.0,708.8 964.4,705.3 964.8,703.2 965.2,705.5 965.6,705.4 966.0,701.0 966.4,697.4 966.8,700.5 967.2,701.4 967.6,697.5 968.0,696.2 968.3,695.6 968.7,696.6 969.1,692.3 969.5,691.7 969.9,686.3 970.3,682.7 970.7,680.9 971.1,684.7 971.5,684.8 971.9,691.0 972.3,692.8 972.7,697.7 973.1,697.6 973.5,691.8 973.9,684.6 974.3,683.6 974.7,690.2 975.1,690.1 975.5,688.8 975.9,691.3 976.3,690.5 976.7,689.6 977.1,690.7 977.5,691.1 977.9,688.1 978.3,684.2 978.7,688.8 979.1,684.8 979.5,680.6 979.9,679.0 980.2,677.5 980.6,677.5 981.0,681.9 981.4,685.5 981.8,684.3 982.2,683.8 982.6,686.1 983.0,684.7 983.4,683.7 983.8,678.3 984.2,678.2 984.6,676.3 984.9,669.7 985.3,669.0 985.7,675.1 986.1,674.8 986.5,670.4 986.9,673.3 987.3,673.0 987.7,672.1 988.1,675.8 988.5,677.4 988.8,683.1 989.2,678.7 989.6,675.6 990.0,673.8 990.4,672.9 990.8,670.6 991.1,673.3 991.5,670.2 991.9,670.0 992.3,670.9 992.6,673.6 993.0,676.5 993.4,675.6 993.8,678.6 994.1,681.4 994.5,682.8 994.9,684.7 995.3,682.9 995.7,689.2 996.1,694.0 996.5,694.9 996.9,699.5 997.3,696.4 997.7,694.6 998.1,693.5 998.5,695.0 998.9,693.9 999.3,690.7 999.7,687.5 1000.1,685.6 1000.4,690.9 1000.8,694.6 1001.2,691.7 1001.6,700.2 1001.9,700.5 1002.3,700.9 1002.7,702.3 1003.1,701.6 1003.5,699.4 1003.9,698.4 1004.2,700.2 1004.6,702.5 1005.0,699.3 1005.4,697.9 1005.8,694.4 1006.1,692.0 1006.5,690.8 1006.9,688.8 1007.3,690.0 1007.7,688.4 1008.1,691.3 1008.4,695.4 1008.8,695.9 1009.2,696.3 1009.6,700.0 1010.0,700.2 1010.4,700.7 1010.8,702.9 1011.1,695.9 1011.5,699.9 1011.9,702.3 1012.3,705.1 1012.7,701.1 1013.0,700.4 1013.4,702.7 1013.8,705.4 1014.2,704.2 1014.6,703.4 1015.0,709.4 1015.4,711.2 1015.7,716.2 1016.1,712.3 1016.5,714.6 1016.9,715.0 1017.3,715.6 1017.7,722.3 1018.0,720.9 1018.4,720.0 1018.8,719.9 1019.2,721.4 1019.6,723.8 1020.0,722.5 1020.4,724.1 1020.8,722.9 1021.1,726.3 1021.5,727.2 1021.9,726.3 1022.3,723.1 1022.7,725.1 1023.1,721.3 1023.4,721.9 1023.8,719.3 1024.2,714.6 1024.6,716.6 1025.0,718.6 1025.3,719.3 1025.7,722.8 1026.1,722.8 1026.5,720.0 1026.9,719.9 1027.3,726.0 1027.7,722.4 1028.0,715.7 1028.4,715.4 1028.8,711.5 1029.2,714.0 1029.6,712.3 1030.0,706.9 1030.4,704.5 1030.8,699.1 1031.2,698.6 1031.5,699.6 1031.9,701.7 1032.3,703.1 1032.7,700.9 1033.1,702.8 1033.5,702.3 1033.9,699.1 1034.3,705.1 1034.7,703.3 1035.0,702.5 1035.4,698.3 1035.8,696.7 1036.2,690.6 1036.6,687.6 1036.9,685.9 1037.3,683.0 1037.7,682.9 1038.1,686.9 1038.5,683.1 1038.9,681.9 1039.3,683.1 1039.7,678.3 1040.1,680.7 1040.5,677.9 1040.8,675.0 1041.2,673.5 1041.6,675.5 1042.0,668.6 1042.4,669.1 1042.8,664.8 1043.2,662.4 1043.6,656.2 1044.0,650.8 1044.4,658.3 1044.8,664.4 1045.2,664.1 1045.6,664.4 1045.9,663.6 1046.3,666.9 1046.7,677.4 1047.1,680.3 1047.5,677.8 1047.9,683.8 1048.3,682.8 1048.7,679.4 1049.0,682.9 1049.4,685.0 1049.8,687.7 1050.2,692.3 1050.5,697.8 1050.9,692.7 1051.3,695.4 1051.7,701.5 1052.0,708.0 1052.4,706.5 1052.8,702.3 1053.2,696.9 1053.6,696.6 1054.0,694.3 1054.4,695.6 1054.9,693.4 1055.3,687.4 1055.7,681.9 1056.1,679.5 1056.5,680.8 1056.9,685.1 1057.3,680.8 1057.7,681.5 1058.1,680.5 1058.5,675.6 1058.8,670.7 1059.2,675.3 1059.6,673.0 1060.0,671.8 1060.4,672.6 1060.8,673.0 1061.2,674.6 1061.6,673.5 1062.0,673.9 1062.4,676.5 1062.8,679.4 1063.2,678.6 1063.6,674.4 1064.0,679.1 1064.4,683.7 1064.8,688.7 1065.2,690.0 1065.6,680.9 1066.0,676.7 1066.4,680.8 1066.8,679.0 1067.2,677.1 1067.6,668.6 1068.0,663.5 1068.4,664.0 1068.8,662.3 1069.2,662.4 1069.6,667.2 1070.0,670.2 1070.4,672.6 1070.8,672.5 1071.2,674.5 1071.5,678.6 1071.9,680.2 1072.3,676.3 1072.7,676.2 1073.1,675.7 1073.5,677.7 1073.9,682.2 1074.3,682.0 1074.7,680.5 1075.0,683.1 1075.4,684.8 1075.8,682.1 1076.2,683.8 1076.6,684.5 1076.9,685.7 1077.3,680.5 1077.7,673.7 1078.1,668.5 1078.5,663.2 1078.9,667.2 1079.3,671.2 1079.7,667.3 1080.1,673.0 1080.5,669.7 1080.8,667.5 1081.2,675.5 1081.6,671.7 1082.0,674.7 1082.4,678.1 1082.8,682.6 1083.2,685.4 1083.6,686.9 1084.0,684.5 1084.4,676.6 1084.8,669.2 1085.2,662.9 1085.7,654.0 1086.1,645.8 1086.5,642.3 1086.9,640.2 1087.3,634.6 1087.7,634.3 1088.1,632.7 1088.5,631.4 1088.9,630.2 1089.4,628.8 1089.8,628.6 1090.2,627.9 1090.6,631.7 1091.0,626.9 1091.4,628.1 1091.8,633.6 1092.2,634.8 1092.6,636.0 1093.0,640.5 1093.4,642.9 1093.8,642.1 1094.2,645.3 1094.6,650.1 1095.0,646.9 1095.4,650.8 1095.8,645.6 1096.2,648.8 1096.5,645.0 1096.9,646.6 1097.3,647.2 1097.7,651.6 1098.1,652.1 1098.5,651.4 1098.9,649.6 1099.3,651.1 1099.7,651.0 1100.0,654.8 1100.4,657.1 1100.8,662.2 1101.2,665.4 1101.6,665.1 1102.0,663.9 1102.4,665.1 1102.8,666.8 1103.2,661.3 1103.6,661.7 1104.0,659.5 1104.4,659.7 1104.8,661.5 1105.2,653.9 1105.6,652.6 1106.0,655.1 1106.4,648.2 1106.8,648.0 1107.2,652.4 1107.7,654.9 1108.1,662.4 1108.5,670.0 1108.9,662.6 1109.2,660.0 1109.6,657.6 1109.9,650.8 1110.3,646.2 1110.7,645.2 1111.0,647.2 1111.4,646.1 1111.8,644.4 1112.2,640.9 1112.5,639.4 1112.9,640.9 1113.3,637.1 1113.7,633.3 1114.1,626.4 1114.4,631.8 1114.8,627.0 1115.2,621.8 1115.6,616.3 1116.0,613.2 1116.4,607.3 1116.9,593.1 1117.3,586.4 1117.7,588.4 1118.1,583.8 1118.6,579.8 1119.0,585.4 1119.4,580.2 1119.8,579.4 1120.2,581.6 1120.6,590.0 1121.0,591.5 1121.4,585.9 1121.8,585.4 1122.2,584.6 1122.6,591.7 1123.0,595.0 1123.3,600.0 1123.7,600.1 1124.1,600.2 1124.5,604.9 1124.8,615.1 1125.2,616.3 1125.6,611.9 1126.0,617.1 1126.4,619.6 1126.7,623.5 1127.1,624.1 1127.5,626.1 1127.9,626.9 1128.3,624.3 1128.8,627.8 1129.2,623.8 1129.6,619.8 1130.0,616.5 1130.4,612.6 1130.9,615.1 1131.3,611.2 1131.7,609.3 1132.1,608.9 1132.5,614.6 1132.8,620.8 1133.2,626.9 1133.6,621.5 1134.1,619.4 1134.5,610.4 1134.9,616.3 1135.3,616.2 1135.7,622.1 1136.1,629.1 1136.4,632.9 1136.8,630.9 1137.2,630.4 1137.6,628.2 1138.0,616.4 1138.5,616.3 1138.9,616.4 1139.3,614.5 1139.7,610.8 1140.0,609.3 1140.4,601.0 1140.8,595.0 1141.2,590.7 1141.5,585.4 1141.9,588.5 1142.3,587.3 1142.7,580.5 1143.1,586.1 1143.5,589.4 1143.9,590.2 1144.3,589.3 1144.7,598.1 1145.1,600.5 1145.5,603.7 1145.8,600.4 1146.2,600.7 1146.6,606.1 1147.0,608.8 1147.3,609.6 1147.7,610.8 1148.1,607.5 1148.5,604.3 1148.9,611.6 1149.2,611.9 1149.6,611.8 1150.0,618.3 1150.4,626.9 1150.8,623.9 1151.2,626.0 1151.5,624.4 1151.9,611.7 1152.3,615.6 1152.7,610.0 1153.0,613.8 1153.4,611.0 1153.8,611.4 1154.2,610.5 1154.6,607.7 1155.0,610.5 1155.4,617.0 1155.8,622.2 1156.2,620.9 1156.6,623.3 1157.0,627.7 1157.4,630.4 1157.8,624.7 1158.2,630.7 1158.5,626.9 1158.9,622.8 1159.3,622.1 1159.7,621.7 1160.0,618.6 1160.4,612.8 1160.8,610.5 1161.2,612.4 1161.6,607.8 1161.9,613.7 1162.3,617.9 1162.7,620.6 1163.1,623.3 1163.5,618.4 1163.8,614.6 1164.2,615.8 1164.6,612.2 1165.0,615.9 1165.3,617.6 1165.7,618.1 1166.1,620.3 1166.4,620.1 1166.8,622.6 1167.2,622.3 1167.6,624.0 1167.9,625.8 1168.3,626.9 1168.7,632.6 1169.1,631.2 1169.5,630.3 1169.9,636.1 1170.3,638.7 1170.7,642.1 1171.1,641.6 1171.5,644.5 1171.9,644.5 1172.3,639.9 1172.8,636.8 1173.2,636.4 1173.6,633.9 1174.0,634.6 1174.4,626.8 1174.8,617.0 1175.2,609.5 1175.6,607.4 1176.0,601.4 1176.4,590.7 1176.8,593.4 1177.2,598.4 1177.5,596.9 1177.9,595.0 1178.3,593.0 1178.7,595.9 1179.0,597.9 1179.4,598.8 1179.8,604.0 1180.2,604.7 1180.5,604.1 1180.9,607.6 1181.3,611.0 1181.7,614.9 1182.0,619.9 1182.4,618.1 1182.8,624.6 1183.2,619.2 1183.6,621.3 1183.9,623.4 1184.3,627.2 1184.7,628.9 1185.1,626.9 1185.5,623.8 1185.9,616.6 1186.3,613.7 1186.7,610.5 1187.0,601.5 1187.4,606.8 1187.8,602.3 1188.2,601.8 1188.6,604.0 1189.0,606.6 1189.3,607.8 1189.7,606.6 1190.1,606.7 1190.5,606.9 1190.8,609.0 1191.2,614.5 1191.6,617.2 1192.0,624.5 1192.4,627.9 1192.8,630.7 1193.2,622.1 1193.6,623.5 1194.0,626.5 1194.4,623.3 1194.8,622.7 1195.2,619.9 1195.5,618.8 1195.9,618.3 1196.3,617.0 1196.7,616.5 1197.0,617.4 1197.4,618.1 1197.8,615.6 1198.2,618.6 1198.6,618.7 1199.0,619.8 1199.4,625.7 1199.8,631.4 1200.2,638.9 1200.6,637.9 1201.0,639.2 1201.4,640.7 1201.8,640.9 1202.2,639.9 1202.6,642.3 1203.0,645.8 1203.4,652.9 1203.8,650.6 1204.2,651.7 1204.6,648.5 1205.0,647.1 1205.4,639.9 1205.8,648.3 1206.2,643.7 1206.6,645.1 1207.0,639.9 1207.3,639.8 1207.7,637.2 1208.1,630.9 1208.5,628.3 1208.9,628.5 1209.3,629.1 1209.7,623.3 1210.1,626.8 1210.5,627.0 1210.9,624.3 1211.3,630.9 1211.6,629.8 1212.0,631.9 1212.4,638.5 1212.8,640.0 1213.2,640.9 1213.6,640.6 1214.0,635.4 1214.4,632.0 1214.8,627.8 1215.1,622.8 1215.5,621.8 1215.9,619.1 1216.3,620.4 1216.7,618.1 1217.1,614.9 1217.5,618.0 1217.9,618.7 1218.3,619.5 1218.7,624.6 1219.1,627.8 1219.5,623.9 1219.9,632.7 1220.3,633.9 1220.7,631.3 1221.1,633.3 1221.5,638.1 1221.9,637.3 1222.2,637.4 1222.6,634.2 1223.0,638.3 1223.4,639.6 1223.8,648.0 1224.2,645.5 1224.6,643.0 1225.0,637.4 1225.4,639.9 1225.8,634.1 1226.1,634.2 1226.5,634.9 1226.9,631.2 1227.3,626.1 1227.7,629.2 1228.0,634.7 1228.4,635.1 1228.8,640.5 1229.2,641.2 1229.6,639.6 1229.9,637.3 1230.3,632.0 1230.7,634.3 1231.1,635.0 1231.5,635.4 1231.9,639.3 1232.3,643.6 1232.6,643.7 1233.0,647.1 1233.4,649.2 1233.8,652.3 1234.2,654.4 1234.6,655.6 1235.0,649.7 1235.4,650.3 1235.7,657.1 1236.1,658.6 1236.5,661.8 1236.9,666.6 1237.3,665.7 1237.7,664.3 1238.1,661.7 1238.4,661.2 1238.8,661.7 1239.2,660.3 1239.6,657.8 1239.9,659.5 1240.3,658.3 1240.7,651.4 1241.1,657.1 1241.5,660.1 1241.8,659.4 1242.2,660.6 1242.6,658.6 1243.0,660.4 1243.4,656.6 1243.7,661.5 1244.1,664.5 1244.5,662.4 1244.9,665.5 1245.3,661.8 1245.6,661.3 1246.0,659.1 1246.4,662.9 1246.8,666.2 1247.2,662.3 1247.6,663.8 1248.0,666.3 1248.3,666.0 1248.7,675.3 1249.1,670.6 1249.5,676.1 1249.9,682.2 1250.3,684.8 1250.7,684.7 1251.2,692.8 1251.6,687.9 1252.0,691.7 1252.4,690.5 1252.8,689.9 1253.2,687.5 1253.7,682.4 1254.1,683.9 1254.5,687.5 1254.9,682.2 1255.3,683.2 1255.7,682.3 1256.1,678.7 1256.5,675.5 1256.9,676.2 1257.3,678.9 1257.7,681.9 1258.1,677.3 1258.5,684.1 1259.0,689.4 1259.4,686.6 1259.8,688.8 1260.2,692.7 1260.6,695.6 1261.0,700.6 1261.5,701.5 1261.9,707.7 1262.3,702.0 1262.7,703.6 1263.1,701.8 1263.5,701.7 1264.0,704.3 1264.4,709.4 1264.8,706.1 1265.2,705.3 1265.6,701.2 1266.0,700.9 1266.4,698.4 1266.8,693.7 1267.2,697.1 1267.6,698.5 1268.0,698.7 1268.5,703.5 1268.9,697.9 1269.3,699.5 1269.7,705.3 1270.1,702.8 1270.5,698.6 1270.9,694.6 1271.3,697.7 1271.8,700.2 1272.2,700.2 1272.6,702.2 1273.0,698.7 1273.4,694.5 1273.8,694.5 1274.2,688.3 1274.7,686.2 1275.1,683.2 1275.5,677.3 1275.9,681.4 1276.3,680.4 1276.7,681.6 1277.2,678.1 1277.6,677.0 1278.0,677.4 1278.4,682.0 1278.8,685.5 1279.2,676.9 1279.6,671.9 1280.1,675.6 1280.5,671.7 1280.9,669.0 1281.3,663.5 1281.7,663.6 1282.1,669.5 1282.5,666.3 1282.9,665.0 1283.3,664.3 1283.7,665.7 1284.1,667.5 1284.5,661.0 1285.0,663.0 1285.4,653.4 1285.8,649.8 1286.2,650.9 1286.6,642.6 1287.0,635.4 1287.4,629.2 1287.8,630.6 1288.2,622.8 1288.6,622.7 1288.9,626.1 1289.3,621.3 1289.7,615.0 1290.1,611.5 1290.4,604.5 1290.8,599.7 1291.2,596.7 1291.6,592.1 1292.0,587.2 1292.4,591.1 1292.9,589.4 1293.3,586.1 1293.7,590.5 1294.1,590.6 1294.5,593.9 1294.9,595.8 1295.3,600.3 1295.7,603.8 1296.1,606.8 1296.5,610.7 1296.9,617.9 1297.3,618.3 1297.8,624.1 1298.2,628.6 1298.6,626.1 1299.0,622.3 1299.4,617.4 1299.8,614.4 1300.2,616.6 1300.6,615.0 1301.0,612.9 1301.4,612.9 1301.8,605.5 1302.1,606.9 1302.5,606.5 1302.9,609.2 1303.3,608.4 1303.6,612.2 1304.0,616.2 1304.4,620.8 1304.8,628.5 1305.2,631.0 1305.6,634.2 1306.0,636.0 1306.4,638.9 1306.8,638.2 1307.2,638.0 1307.6,640.8 1308.0,639.3 1308.4,639.5 1308.7,634.3 1309.1,631.6 1309.5,628.6 1309.9,630.3 1310.2,630.5 1310.6,627.8 1311.0,627.0 1311.4,631.3 1311.8,632.1 1312.2,629.6 1312.6,631.4 1313.0,634.9 1313.4,636.0 1313.8,635.9 1314.2,640.8 1314.6,638.7 1315.1,641.1 1315.5,646.3 1315.9,652.0 1316.3,647.6 1316.7,649.2 1317.1,646.4 1317.5,651.5 1318.0,652.7 1318.4,653.0 1318.8,653.8 1319.2,652.5 1319.6,646.8 1320.0,652.7 1320.4,644.7 1320.8,645.4 1321.3,646.1 1321.7,644.8 1322.1,646.4 1322.5,644.3 1322.9,645.9 1323.3,645.4 1323.7,641.6 1324.2,643.7 1324.6,640.5 1325.0,641.4 1325.4,636.4 1325.8,636.0 1326.2,636.6 1326.6,639.3 1327.0,634.1 1327.5,630.9 1327.9,629.5 1328.3,624.5 1328.7,625.2 1329.1,632.1 1329.5,633.1 1329.9,633.8 1330.4,629.5 1330.8,630.0 1331.2,630.5 1331.6,636.0 1332.0,636.6 1332.4,642.9 1332.8,643.5 1333.2,644.4 1333.6,644.8 1334.0,647.7 1334.4,644.3 1334.8,643.2 1335.2,648.7 1335.5,642.5 1335.9,645.8 1336.3,648.8 1336.7,647.5 1337.0,645.0 1337.4,649.2 1337.8,651.3 1338.2,655.6 1338.6,658.2 1339.0,657.5 1339.4,661.7 1339.8,664.6 1340.2,661.9 1340.5,666.3 1340.9,662.5 1341.3,658.5 1341.7,662.1 1342.1,661.1 1342.4,661.7 1342.8,667.9 1343.2,664.7 1343.6,667.4 1344.0,665.9 1344.4,666.1 1344.8,665.2 1345.2,662.3 1345.7,662.4 1346.1,659.0 1346.5,659.0 1346.9,655.5 1347.3,655.2 1347.6,656.4 1348.0,652.1 1348.4,652.6 1348.8,655.7 1349.1,656.8 1349.5,660.8 1349.9,656.8 1350.3,658.4 1350.7,659.0 1351.0,648.8 1351.4,648.3 1351.8,650.9 1352.2,650.2 1352.6,651.8 1353.0,652.7 1353.4,653.6 1353.8,651.4 1354.3,650.4 1354.7,644.0 1355.1,652.8 1355.5,654.2 1355.9,658.6 1356.3,664.4 1356.7,669.9 1357.1,673.2 1357.5,671.3 1357.9,665.1 1358.3,669.1 1358.7,668.6 1359.1,669.0 1359.5,663.3 1359.8,659.6 1360.2,658.6 1360.6,653.9 1361.0,656.2 1361.4,651.5 1361.8,650.8 1362.2,647.6 1362.6,649.8 1363.0,655.2 1363.4,656.8 1363.8,658.2 1364.1,658.5 1364.5,662.8 1364.9,664.2 1365.3,671.9 1365.6,672.4 1366.0,672.6 1366.4,674.5 1366.8,671.5 1367.2,676.1 1367.5,680.3 1367.9,678.4 1368.3,678.0 1368.7,678.0 1369.1,680.6 1369.5,672.5 1369.9,670.6 1370.3,670.2 1370.7,663.4 1371.1,660.4 1371.4,653.5 1371.8,655.0 1372.2,648.0 1372.5,642.1 1372.9,639.0 1373.3,637.7 1373.8,648.7 1374.2,649.5 1374.6,650.2 1375.0,650.9 1375.4,654.9 1375.8,656.9 1376.2,659.7 1376.6,667.4 1377.0,666.9 1377.3,670.1 1377.7,669.5 1378.1,674.6 1378.5,673.6 1378.8,671.8 1379.2,672.6 1379.6,678.6 1380.0,678.8 1380.4,677.3 1380.7,678.4 1381.1,677.5 1381.5,680.1 1381.9,679.3 1382.3,679.8 1382.7,682.3 1383.1,683.4 1383.5,688.1 1383.9,688.5 1384.3,693.5 1384.6,696.4 1385.0,694.0 1385.4,695.3 1385.8,691.2 1386.1,689.0 1386.5,687.2 1386.9,685.5 1387.3,687.7 1387.7,688.5 1388.1,696.6 1388.5,700.4 1388.9,699.4 1389.2,696.9 1389.6,694.8 1390.0,692.2 1390.4,689.5 1390.8,689.3 1391.1,684.4 1391.5,683.2 1391.9,687.1 1392.3,687.2 1392.6,685.5 1393.0,685.9 1393.4,691.1 1393.8,682.8 1394.2,682.5 1394.6,671.1 1395.0,662.6 1395.4,659.1 1395.8,658.1 1396.2,662.1 1396.6,661.1 1396.9,664.8 1397.3,666.4 1397.7,668.7 1398.1,666.6 1398.5,663.8 1398.9,662.9 1399.3,662.6 1399.7,660.8 1400.1,653.8 1400.4,652.4 1400.8,642.5 1401.2,642.0 1401.6,639.8 1402.0,635.8 1402.4,642.3 1402.8,648.7 1403.2,654.0 1403.6,655.4 1404.1,654.4 1404.5,656.6 1404.9,662.9 1405.3,663.3 1405.7,663.4 1406.1,661.8 1406.5,662.1 1406.9,665.5 1407.3,662.8 1407.7,667.0 1408.0,667.9 1408.4,676.2 1408.8,677.4 1409.2,682.3 1409.6,679.3 1410.0,682.6 1410.4,677.8 1410.8,672.4 1411.1,672.5 1411.5,667.9 1411.9,658.5 1412.3,655.5 1412.7,658.8 1413.1,660.1 1413.5,659.8 1413.9,655.5 1414.2,662.7 1414.6,662.6 1415.0,665.2 1415.4,664.8 1415.8,663.7 1416.2,666.0 1416.6,663.9 1417.0,668.1 1417.4,663.5 1417.8,666.5 1418.3,671.6 1418.7,671.0 1419.1,672.7 1419.5,676.6 1419.9,677.4 1420.3,679.0 1420.7,680.7 1421.2,692.6 1421.6,692.1 1422.0,693.8 1422.4,694.6 1422.8,695.1 1423.2,691.3 1423.6,688.4 1424.0,688.4 1424.4,691.9 1424.9,696.9 1425.3,691.9 1425.7,687.9 1426.1,687.2 1426.5,688.0 1426.9,689.5 1427.3,693.0 1427.6,695.2 1428.0,696.5 1428.4,701.5 1428.8,703.0 1429.2,698.2 1429.6,695.5 1430.0,694.2 1430.4,691.1 1430.8,691.1 1431.2,689.0 1431.5,681.2 1431.9,683.6 1432.3,690.9 1432.7,691.0 1433.0,693.9 1433.4,695.1 1433.8,695.3 1434.1,699.3 1434.5,698.7 1434.9,698.5 1435.2,702.2 1435.6,704.3 1436.0,699.9 1436.4,693.0 1436.8,693.7 1437.2,691.6 1437.5,690.0 1437.9,684.9 1438.3,680.1 1438.7,677.9 1439.1,670.3 1439.5,673.3 1439.9,672.2 1440.3,674.9 1440.7,677.1 1441.0,673.9 1441.4,674.6 1441.8,669.5 1442.2,665.2 1442.6,668.7 1443.0,667.0 1443.4,664.5 1443.7,666.4 1444.1,666.7 1444.5,670.2 1444.9,666.0 1445.2,665.3 1445.6,661.8 1446.0,662.1 1446.4,661.9 1446.7,659.3 1447.1,653.9 1447.5,649.9 1447.9,653.9 1448.2,653.3 1448.6,650.2 1449.0,654.4 1449.4,654.1 1449.8,660.9 1450.2,667.5 1450.7,671.2 1451.1,672.8 1451.5,670.0 1451.9,675.3 1452.3,682.2 1452.7,682.8 1453.1,680.7 1453.5,683.4 1453.9,681.9 1454.3,676.9 1454.7,675.7 1455.1,677.0 1455.5,669.8 1455.9,672.6 1456.3,680.5 1456.7,682.6 1457.0,683.1 1457.4,680.4 1457.8,684.5 1458.2,680.6 1458.6,681.9 1459.0,684.4 1459.4,685.8 1459.8,683.4 1460.2,674.2 1460.6,675.8 1461.0,671.2 1461.4,666.6 1461.8,667.4 1462.2,668.2 1462.6,663.8 1463.0,661.8 1463.4,660.0 1463.9,658.6 1464.3,653.7 1464.7,658.1 1465.1,656.8 1465.5,656.3 1465.9,657.2 1466.3,662.0 1466.8,661.8 1467.2,656.5 1467.6,652.2 1468.0,652.5 1468.4,655.5 1468.8,649.1 1469.2,654.4 1469.6,651.1 1470.0,649.1 1470.4,646.2 1470.8,649.8 1471.2,650.6 1471.6,651.9 1472.0,650.2 1472.4,656.8 1472.8,654.9 1473.1,651.7 1473.5,656.0 1473.9,655.2 1474.3,656.8 1474.6,652.8 1475.0,650.2 1475.4,650.8 1475.8,655.0 1476.2,657.1 1476.7,652.4 1477.1,655.5 1477.5,655.9 1477.9,657.9 1478.3,662.4 1478.7,661.6 1479.1,663.9 1479.5,664.1 1479.8,663.9 1480.2,662.3 1480.6,662.0 1481.0,661.1 1481.4,663.9 1481.8,656.0 1482.1,658.2 1482.5,658.0 1482.9,654.5 1483.3,658.6 1483.7,659.9 1484.1,663.2 1484.5,669.2 1484.8,671.4 1485.2,667.2 1485.6,663.1 1486.0,664.3 1486.4,661.5 1486.8,670.3 1487.2,671.9 1487.5,667.7 1487.9,662.1 1488.3,662.2 1488.7,655.8 1489.0,659.4 1489.4,653.4 1489.8,658.4 1490.2,658.2 1490.6,663.6 1491.0,661.1 1491.4,661.0 1491.8,666.3 1492.2,655.9 1492.5,653.5 1492.9,653.8 1493.3,645.6 1493.7,640.3 1494.0,641.3 1494.4,641.7 1494.8,642.6 1495.2,633.2 1495.7,622.8 1496.1,619.9 1496.5,616.2 1496.9,616.7 1497.3,617.3 1497.7,616.8 1498.1,612.2 1498.5,612.7 1498.9,612.1 1499.3,610.7 1499.7,612.7 1500.1,609.2 1500.5,607.4 1500.9,609.0 1501.3,604.2 1501.7,605.0 1502.1,608.0 1502.5,613.7 1502.9,618.6 1503.3,617.0 1503.7,623.7 1504.0,622.6 1504.4,618.9 1504.8,618.4 1505.2,617.6 1505.6,614.9 1506.0,618.8 1506.4,616.6 1506.8,614.7 1507.2,605.9 1507.6,608.2 1508.0,605.8 1508.4,605.9 1508.8,603.1 1509.2,600.4 1509.6,599.0 1510.0,601.4 1510.3,608.1 1510.7,608.2 1511.1,603.0 1511.5,603.6 1511.8,605.4 1512.2,608.7 1512.6,610.9 1513.0,608.4 1513.4,605.9 1513.8,601.2 1514.2,599.1 1514.6,597.0 1515.0,596.0 1515.4,591.6 1515.8,594.1 1516.2,597.5 1516.5,602.9 1516.9,608.5 1517.3,611.2 1517.7,617.0 1518.1,616.7 1518.5,616.8 1518.9,619.9 1519.3,614.2 1519.7,612.5 1520.1,607.3 1520.5,601.6 1520.9,607.4 1521.3,599.7 1521.7,604.3 1522.1,601.2 1522.5,597.0 1522.9,591.5 1523.3,592.5 1523.7,594.8 1524.2,597.1 1524.6,594.1 1525.0,600.1 1525.4,601.0 1525.8,598.1 1526.2,595.4 1526.6,592.6 1527.0,586.7 1527.4,583.2 1527.8,580.3 1528.2,580.8 1528.6,577.1 1529.0,571.8 1529.4,569.3 1529.8,566.2 1530.2,561.3 1530.6,557.7 1531.0,553.2 1531.4,550.8 1531.8,554.3 1532.2,553.7 1532.6,554.1 1533.0,555.0 1533.4,555.4 1533.8,556.9 1534.2,559.9 1534.5,563.7 1534.9,563.2 1535.3,562.3 1535.7,562.3 1536.0,562.2 1536.4,563.9 1536.8,562.4 1537.2,561.0 1537.5,561.9 1537.9,563.7 1538.3,563.4 1538.7,555.3 1539.1,551.6 1539.5,551.5 1539.9,547.8 1540.3,549.2 1540.7,544.5 1541.1,540.7 1541.5,540.5 1541.9,541.6 1542.3,537.6 1542.7,542.9 1543.1,543.8 1543.5,545.5 1543.9,551.9 1544.2,555.1 1544.6,554.6 1545.0,554.7 1545.4,551.8 1545.8,555.9 1546.2,557.4 1546.6,560.7 1547.0,561.7 1547.3,558.6 1547.7,553.4 1548.1,549.1 1548.5,550.3 1548.8,546.7 1549.2,547.5 1549.6,553.2 1550.0,559.9 1550.4,562.3 1550.8,566.3 1551.2,563.4 1551.6,563.1 1552.0,561.6 1552.3,563.3 1552.7,555.7 1553.1,553.1 1553.5,559.5 1553.8,558.6 1554.2,555.4 1554.6,554.2 1555.0,552.2 1555.3,549.6 1555.7,550.1 1556.1,549.5 1556.5,548.8 1556.8,552.9 1557.2,550.8 1557.6,547.4 1558.0,547.9 1558.3,538.6 1558.7,540.2 1559.1,531.7 1559.5,532.9 1559.9,536.0 1560.3,534.3 1560.7,535.0 1561.1,538.4 1561.5,542.7 1561.9,540.7 1562.3,533.3 1562.7,538.5 1563.1,535.6 1563.5,537.9 1563.9,540.6 1564.3,544.4 1564.7,543.6 1565.0,542.6 1565.4,554.3 1565.8,555.1 1566.2,552.7 1566.6,549.3 1567.0,549.5 1567.4,553.8 1567.8,554.6 1568.1,549.9 1568.5,543.5 1568.9,539.8 1569.2,538.1 1569.6,537.5 1570.0,537.6 1570.4,543.3 1570.8,540.5 1571.2,537.1 1571.6,538.6 1572.0,542.5 1572.4,542.5 1572.8,545.3 1573.2,546.8 1573.6,550.8 1574.0,550.1 1574.4,548.6 1574.8,550.3 1575.1,553.8 1575.5,551.6 1575.9,551.3 1576.3,548.9 1576.7,545.0 1577.1,551.8 1577.5,548.2 1577.9,545.5 1578.2,542.8 1578.6,538.4 1579.0,536.4 1579.4,534.5 1579.8,533.9 1580.1,530.2 1580.5,523.5 1580.9,521.1 1581.3,521.7 1581.6,524.2 1582.0,522.1 1582.4,520.0 1582.8,516.3 1583.2,520.2 1583.5,517.0 1583.9,514.0 1584.3,512.7 1584.7,510.7 1585.1,509.6 1585.5,509.7 1585.9,514.2 1586.3,514.7 1586.6,514.8 1587.0,508.4 1587.4,514.7 1587.8,515.2 1588.2,516.9 1588.6,515.4 1589.0,514.6 1589.4,512.9 1589.8,511.9 1590.1,510.1 1590.5,512.4 1590.9,515.7 1591.3,515.1 1591.7,514.6 1592.0,518.0 1592.4,517.8 1592.8,520.3 1593.1,518.5 1593.5,523.9 1593.9,521.7 1594.3,523.1 1594.7,528.4 1595.1,529.3 1595.5,527.8 1595.9,529.8 1596.3,534.5 1596.7,526.3 1597.1,524.4 1597.5,523.3 1597.9,525.7 1598.3,521.0 1598.7,524.3 1599.0,525.0 1599.4,527.5 1599.8,524.5 1600.2,529.4 1600.5,538.9 1600.9,539.8 1601.3,545.9 1601.7,546.3 1602.1,540.5 1602.5,544.3 1602.8,547.5 1603.2,553.8 1603.6,558.1 1604.0,557.5 1604.4,553.8 1604.8,553.7 1605.2,553.2 1605.6,548.9 1606.0,544.2 1606.4,542.7 1606.8,537.1 1607.2,528.7 1607.6,529.2 1608.0,525.9 1608.4,526.1 1608.8,532.1 1609.2,535.2 1609.5,540.6 1609.9,547.3 1610.3,549.5 1610.7,545.9 1611.1,541.5 1611.5,531.3 1611.9,531.3 1612.3,523.8 1612.7,520.8 1613.0,518.6 1613.4,517.2 1613.8,514.6 1614.2,516.5 1614.6,515.1 1615.0,516.2 1615.4,513.3 1615.8,510.7 1616.2,508.6 1616.6,507.7 1617.0,507.8 1617.4,503.4 1617.8,502.9 1618.2,509.9 1618.6,497.9 1619.0,497.5 1619.4,498.6 1619.7,499.3 1620.1,498.7 1620.5,496.1 1620.9,498.5 1621.2,497.5 1621.6,504.5 1622.0,505.2 1622.4,511.0 1622.8,511.0 1623.1,505.7 1623.5,506.8 1623.9,507.2 1624.3,509.8 1624.7,497.5 1625.1,493.9 1625.4,495.1 1625.8,491.5 1626.2,480.5 1626.6,478.1 1627.0,476.4 1627.4,477.8 1627.8,476.4 1628.2,467.7 1628.6,466.5 1628.9,463.7 1629.3,462.7 1629.7,456.8 1630.1,455.2 1630.5,449.6 1630.9,446.7 1631.3,450.5 1631.8,457.9 1632.2,461.7 1632.6,464.0 1633.0,461.2 1633.4,457.6 1633.8,459.3 1634.2,450.8 1634.6,449.6 1635.0,452.7 1635.4,444.7 1635.8,439.7 1636.2,439.2 1636.6,442.1 1637.0,446.9 1637.4,447.8 1637.8,453.5 1638.2,455.4 1638.6,453.5 1639.0,460.8 1639.5,464.5 1639.9,465.9 1640.3,463.9 1640.7,458.7 1641.1,457.6 1641.5,462.8 1641.8,462.2 1642.2,460.1 1642.6,460.0 1643.0,464.7 1643.3,469.5 1643.7,476.4" fill="none" stroke="#ff0000" stroke-width="1" stroke-linejoin="miter"/>
<polyline points="406.5,777.5 406.8,761.6 407.1,745.7 407.5,744.7 407.9,752.8 408.2,760.9 408.6,768.9 409.0,777.0 409.4,780.7 409.8,784.4 410.1,782.6 410.5,786.3 410.9,790.0 411.3,790.7 411.7,785.9 412.1,781.1 412.5,781.8 412.9,773.4 413.3,765.0 413.7,764.8 414.1,770.0 414.6,775.2 415.0,780.5 415.4,785.7 415.8,782.7 416.2,779.7 416.6,776.7 417.1,773.7 417.5,770.7 417.9,767.7 418.3,755.7 418.7,763.3 419.1,765.5 419.6,773.1 420.0,775.3 420.4,782.9 420.8,792.2 421.1,792.4 421.5,792.7 421.9,792.9 422.2,797.2 422.6,807.0 423.0,805.3 423.4,803.5 423.9,801.8 424.3,794.6 424.7,792.9 425.1,791.9 425.4,800.0 425.8,799.1 426.2,798.1 426.5,806.2 426.9,814.3 427.2,814.8 427.6,824.3 428.0,815.0 428.4,814.8 428.9,814.5 429.3,814.3 429.7,808.6 430.1,806.2 430.4,803.8 430.8,801.4 431.1,790.0 431.5,791.6 431.9,798.7 432.3,805.7 432.7,796.5 433.1,787.3 433.5,772.7 433.9,763.5 434.3,754.3 434.7,761.6 435.1,768.8 435.5,770.6 435.8,777.9 436.2,779.7 436.6,787.0 437.0,782.9 437.5,778.7 437.9,774.6 438.3,761.4 438.6,762.8 439.0,769.6 439.4,767.5 439.7,774.3 440.1,768.1 440.5,752.9 441.0,741.2 441.4,735.0 441.8,733.0 442.2,740.0 442.5,747.1 442.9,748.7 443.3,755.7 443.7,758.0 444.1,760.2 444.6,762.5 445.0,764.7 445.4,767.0 445.8,766.4 446.1,765.8 446.5,765.2 446.9,755.5 447.2,754.9 447.6,754.3 448.0,754.0 448.4,762.7 448.9,771.4 449.3,771.0 449.7,774.3 450.1,775.4 450.5,776.5 450.9,772.1 451.3,764.1 451.7,765.2 452.1,757.2 452.5,749.2 452.9,750.3 453.3,751.4 453.7,758.9 454.1,766.4 454.6,764.8 455.0,772.3 455.4,774.3 455.8,772.5 456.2,761.6 456.6,759.8 457.1,757.9 457.5,756.1 457.9,748.8 458.3,747.0 458.7,750.8 459.1,754.6 459.6,749.4 460.0,753.2 460.4,757.0 460.8,744.5 461.1,741.1 461.5,737.7 461.9,734.3 462.3,736.8 462.7,739.4 463.2,741.9 463.6,744.5 464.0,747.0 464.4,747.0 464.8,747.0 465.2,737.9 465.6,728.9 465.9,723.4 466.3,717.9 466.7,717.9 467.1,717.9 467.5,727.0 467.9,736.2 468.2,736.2 468.6,739.9 469.0,740.0 469.4,748.8 469.8,757.6 470.3,766.4 470.7,769.8 471.1,778.6 471.5,767.7 471.8,765.9 472.2,764.0 472.6,756.8 472.9,745.9 473.3,738.6 473.7,742.6 474.1,746.5 474.5,746.9 474.9,756.3 475.3,760.2 475.7,760.6 476.1,760.9 476.5,770.3 476.9,774.3 477.3,762.0 477.7,758.8 478.1,755.5 478.5,752.3 478.8,749.0 479.2,745.8 479.6,742.5 480.0,739.3 480.4,727.0 480.8,726.4 481.2,729.4 481.6,737.8 482.1,740.8 482.5,749.2 482.9,757.6 483.3,757.0 483.7,759.2 484.1,756.0 484.5,760.7 484.9,765.4 485.3,770.1 485.8,774.7 486.2,774.0 486.6,778.7 487.0,783.4 487.4,779.0 487.9,786.5 488.3,793.9 488.7,792.5 489.1,785.7 489.5,784.3 490.0,782.9 490.4,772.4 490.8,765.6 491.2,764.2 491.6,763.0 492.0,770.9 492.4,773.3 492.8,781.1 493.2,789.0 493.6,794.1 494.1,795.7 494.5,797.2 494.9,789.9 495.3,782.7 495.7,775.4 496.1,768.2 496.5,760.9 496.9,762.0 497.3,763.1 497.7,767.8 498.1,768.9 498.5,779.0 498.9,782.3 499.3,785.6 499.8,788.9 500.2,792.2 500.6,795.5 501.0,792.8 501.5,790.1 501.9,787.4 502.3,775.7 502.7,766.1 503.1,765.6 503.6,765.0 504.0,764.4 504.4,754.9 504.8,754.3 505.2,750.4 505.6,751.9 505.9,753.4 506.3,749.5 506.7,751.0 507.1,758.8 507.4,766.7 507.8,774.5 508.2,773.3 508.5,781.2 508.9,789.0 509.3,785.1 509.7,781.3 510.1,777.4 510.6,773.6 511.0,764.3 511.4,755.0 511.8,742.1 512.2,732.8 512.6,738.7 513.0,744.5 513.5,750.4 513.9,756.2 514.3,762.1 514.7,762.5 515.1,761.2 515.5,759.9 515.9,758.6 516.3,751.9 516.7,750.6 517.1,749.3 517.5,745.1 518.0,746.4 518.4,742.3 518.8,734.5 519.2,742.1 519.6,740.7 520.0,742.9 520.5,750.5 520.9,758.2 521.3,765.8 521.7,763.0 522.1,769.2 522.5,775.4 523.0,772.5 523.4,773.3 523.8,770.4 524.2,776.6 524.6,777.4 525.0,779.7 525.4,776.6 525.7,773.5 526.1,770.4 526.5,767.3 526.9,769.7 527.2,762.9 527.6,756.2 528.0,749.5 528.4,751.9 528.7,748.8 529.1,751.1 529.5,744.4 529.9,743.3 530.3,751.2 530.8,759.1 531.2,767.0 531.6,774.9 532.0,777.4 532.4,773.9 532.8,770.3 533.2,761.4 533.6,757.8 534.1,748.8 534.5,745.3 534.9,741.8 535.3,732.8 535.7,741.4 536.1,749.9 536.5,758.5 537.0,761.6 537.4,761.1 537.8,764.2 538.2,753.6 538.6,752.1 539.0,741.5 539.5,739.9 539.9,738.4 540.3,736.8 540.7,735.3 541.1,737.7 541.5,745.5 541.9,753.4 542.3,752.2 542.7,760.0 543.1,767.9 543.5,775.7 544.0,784.0 544.4,792.2 544.8,802.1 545.2,803.0 545.6,803.8 546.0,813.7 546.4,810.1 546.8,806.5 547.2,803.0 547.7,799.4 548.1,795.8 548.5,792.2 548.9,781.8 549.3,780.5 549.7,779.2 550.1,772.4 550.5,775.2 550.9,778.1 551.4,775.5 551.8,778.3 552.2,781.2 552.6,784.0 553.0,774.9 553.4,765.8 553.8,765.8 554.2,765.7 554.7,765.7 555.1,765.7 555.5,760.2 555.9,751.1 556.3,751.0 556.7,751.0 557.1,757.5 557.5,764.1 558.0,761.6 558.4,768.1 558.8,769.2 559.2,775.7 559.6,777.8 560.0,779.9 560.4,776.5 560.8,778.6 561.2,780.7 561.7,782.7 562.1,784.8 562.5,781.4 562.9,783.5 563.3,785.6 563.7,779.0 564.1,772.4 564.5,765.8 565.0,759.2 565.4,752.6 565.8,746.0 566.2,745.7 566.6,745.4 567.0,745.1 567.5,744.8 567.9,744.5 568.3,744.2 568.7,734.8 569.1,734.5 569.5,728.3 569.9,731.2 570.3,728.7 570.8,726.1 571.2,720.0 571.6,722.9 572.0,725.8 572.4,719.6 572.8,726.3 573.2,723.9 573.6,721.5 574.1,728.1 574.5,734.8 574.9,736.0 575.3,735.2 575.7,734.4 576.1,724.5 576.5,723.7 577.0,717.5 577.4,716.7 577.8,715.9 578.2,709.6 578.6,708.8 579.0,708.0 579.4,709.1 579.8,706.5 580.2,704.0 580.7,710.5 581.1,716.9 581.5,718.0 581.9,721.2 582.3,718.9 582.7,722.1 583.2,725.3 583.6,728.4 584.0,731.6 584.4,734.8 584.8,740.0 585.1,745.3 585.5,750.5 585.9,755.8 586.2,761.0 586.6,757.2 587.0,745.7 587.4,734.2 587.7,731.7 588.1,729.2 588.5,717.7 588.9,715.2 589.2,707.3 589.6,704.8 590.0,710.6 590.4,716.4 590.8,722.2 591.2,727.9 591.6,733.7 592.0,734.1 592.4,730.8 592.8,736.6 593.2,731.7 593.5,721.4 593.9,716.5 594.2,711.6 594.6,706.7 595.0,716.2 595.4,725.7 595.9,726.2 596.3,730.3 596.7,734.3 597.1,734.8 597.5,730.2 597.9,725.7 598.2,721.1 598.6,716.6 599.0,703.0 599.4,708.0 599.7,718.4 600.1,719.8 600.5,724.8 600.8,729.8 601.2,734.8 601.6,745.1 602.0,746.3 602.3,747.5 602.7,752.4 603.1,757.2 603.5,755.4 603.8,759.1 604.2,757.3 604.5,761.0 604.9,764.7 605.3,760.4 605.7,756.1 606.1,751.7 606.5,747.4 606.9,743.1 607.3,738.8 607.7,725.4 608.1,728.6 608.5,737.3 608.8,740.6 609.2,749.3 609.6,757.9 610.0,766.6 610.4,766.3 610.7,769.5 611.1,772.8 611.5,776.0 611.9,772.1 612.3,777.2 612.6,782.4 613.0,782.1 613.4,787.2 613.8,786.3 614.2,785.5 614.6,784.6 615.0,783.8 615.4,782.9 615.8,782.1 616.2,772.2 616.6,770.5 617.0,768.8 617.4,758.0 617.8,756.3 618.2,745.5 618.6,743.8 619.0,736.6 619.4,745.1 619.7,753.6 620.1,756.7 620.4,765.2 620.8,764.7 621.2,762.1 621.6,759.4 621.9,756.8 622.3,754.1 622.7,751.5 623.1,748.8 623.5,737.1 623.8,734.5 624.2,731.8 624.6,729.2 625.0,730.6 625.4,732.0 625.8,728.0 626.2,729.4 626.7,730.8 627.1,726.8 627.5,728.2 627.9,729.6 628.3,731.0 628.7,717.8 629.2,704.7 629.6,686.1 630.0,695.9 630.4,696.6 630.9,701.0 631.3,710.8 631.7,711.5 632.1,712.3 632.5,716.0 632.9,710.6 633.3,714.2 633.7,717.9 634.1,712.5 634.5,716.1 634.9,719.8 635.3,707.7 635.7,699.2 636.1,696.1 636.5,684.0 636.9,675.4 637.3,672.4 637.7,669.3 638.1,673.4 638.4,677.5 638.8,681.7 639.1,685.8 639.5,689.9 639.9,689.3 640.3,688.8 640.7,682.8 641.2,682.2 641.6,681.6 642.0,681.1 642.4,680.5 642.8,685.7 643.1,696.4 643.5,698.0 643.8,699.6 644.2,704.8 644.6,704.2 645.0,703.6 645.4,694.0 645.8,687.9 646.2,687.3 646.6,686.7 647.0,686.1 647.4,686.2 647.8,691.8 648.2,697.4 648.7,702.9 649.1,703.0 649.5,708.6 649.9,716.3 650.2,714.9 650.6,713.5 650.9,712.1 651.3,719.8 651.7,715.1 652.1,710.4 652.5,705.8 652.8,701.1 653.2,696.4 653.6,691.7 654.0,688.7 654.4,685.8 654.8,677.4 655.2,674.4 655.6,671.4 656.0,668.5 656.4,665.5 656.8,665.7 657.2,666.0 657.6,660.8 658.0,652.0 658.4,652.3 658.8,652.5 659.2,652.2 659.6,657.4 659.9,657.1 660.3,662.2 660.7,667.4 661.1,668.2 661.4,663.6 661.8,664.5 662.2,659.9 662.5,651.7 662.9,652.5 663.3,654.5 663.8,651.1 664.2,643.7 664.6,645.3 664.9,647.0 665.3,648.6 665.7,641.2 666.0,632.2 666.3,623.3 666.7,621.2 667.0,619.2 667.4,611.7 667.8,609.6 668.2,602.1 668.5,600.1 668.9,598.0 669.3,594.0 669.7,595.5 670.1,596.9 670.6,592.9 671.0,588.9 671.4,590.4 671.8,595.6 672.2,600.8 672.6,600.5 673.1,605.7 673.5,610.9 673.9,610.6 674.3,612.7 674.6,605.8 675.0,598.9 675.4,592.0 675.8,594.1 676.1,590.8 676.5,592.9 676.9,599.3 677.3,605.7 677.8,603.0 678.2,600.4 678.6,606.8 679.0,613.2 679.4,609.4 679.8,605.6 680.2,601.8 680.7,598.0 681.1,594.2 681.5,590.4 681.9,586.7 682.3,588.4 682.7,581.1 683.0,582.8 683.4,584.5 683.8,580.8 684.2,573.5 684.6,575.2 685.0,580.5 685.4,585.9 685.8,591.2 686.2,596.6 686.6,592.9 687.0,592.8 687.4,592.7 687.8,598.0 688.2,604.8 688.5,606.2 688.9,613.0 689.3,619.8 689.7,621.2 690.0,619.0 690.4,625.8 690.8,624.7 691.2,623.5 691.6,617.0 692.1,610.4 692.5,609.2 692.9,608.1 693.3,603.9 693.7,605.1 694.0,600.9 694.4,602.2 694.8,603.4 695.2,595.6 695.6,591.4 696.0,592.7 696.4,593.9 696.7,589.7 697.1,585.5 697.5,577.7 697.9,588.3 698.3,589.8 698.8,594.9 699.2,596.4 699.6,601.5 700.0,603.0 700.4,593.2 700.7,583.3 701.1,577.1 701.4,576.3 701.8,570.1 702.2,567.9 702.6,571.2 702.9,574.4 703.3,577.7 703.7,575.5 704.1,569.7 704.5,573.0 704.8,576.3 705.2,579.5 705.6,582.8 706.0,591.7 706.4,591.6 706.8,600.5 707.2,605.3 707.6,610.1 707.9,609.4 708.3,608.7 708.7,613.5 709.1,618.3 709.5,623.1 709.8,627.9 710.2,623.6 710.6,628.4 711.0,633.1 711.3,637.9 711.7,642.6 712.1,647.4 712.5,646.7 712.8,651.5 713.2,656.2 713.6,661.7 714.0,667.3 714.5,672.8 714.9,672.9 715.3,678.5 715.7,684.0 716.1,683.7 716.5,688.9 717.0,694.1 717.4,690.3 717.8,686.4 718.2,691.6 718.6,691.0 718.9,681.3 719.3,680.7 719.7,680.1 720.1,679.5 720.4,669.9 720.8,663.8 721.2,669.3 721.6,674.8 721.9,680.3 722.3,685.8 722.7,682.2 723.1,682.3 723.5,687.8 723.8,693.3 724.2,698.8 724.6,704.3 725.0,704.5 725.4,704.7 725.8,710.4 726.2,716.0 726.6,721.7 727.0,727.3 727.4,733.0 727.8,729.6 728.2,727.9 728.6,726.3 729.0,715.6 729.3,713.9 729.7,712.2 730.1,710.6 730.5,703.5 730.9,701.8 731.3,690.6 731.7,679.4 732.1,668.2 732.6,666.0 733.0,663.8 733.4,656.2 733.8,652.8 734.2,649.4 734.6,646.1 735.0,633.6 735.3,630.2 735.7,617.8 736.1,614.4 736.5,605.6 736.9,612.3 737.3,609.9 737.7,616.6 738.1,614.3 738.5,620.9 738.9,627.6 739.3,634.3 739.7,641.0 740.1,635.7 740.5,639.5 740.8,643.2 741.2,647.0 741.6,650.8 742.0,654.5 742.4,652.9 742.7,656.6 743.1,654.9 743.5,658.7 743.9,664.9 744.3,671.1 744.6,668.2 745.0,665.4 745.4,666.1 745.8,672.3 746.2,678.5 746.5,679.2 746.9,685.4 747.3,691.6 747.7,699.8 748.0,708.1 748.4,707.2 748.8,710.0 749.2,718.2 749.5,726.5 749.9,734.7 750.3,729.3 750.7,723.8 751.1,718.4 751.6,713.0 752.0,707.6 752.4,696.7 752.8,696.1 753.2,695.4 753.5,689.3 753.9,688.7 754.3,679.0 754.7,678.4 755.1,672.3 755.4,671.6 755.8,661.9 756.2,661.3 756.6,661.3 757.0,661.2 757.3,655.7 757.7,650.3 758.1,650.2 758.5,650.2 758.9,641.1 759.2,641.1 759.6,641.0 760.0,641.0 760.4,639.6 760.8,638.1 761.2,636.7 761.7,635.2 762.1,624.7 762.5,623.3 762.9,630.1 763.2,631.5 763.6,632.9 764.0,630.6 764.4,637.5 764.7,644.3 765.1,651.1 765.5,652.8 765.9,654.5 766.4,650.8 766.8,643.5 767.2,639.7 767.6,636.0 768.0,633.4 768.4,630.9 768.7,628.3 769.1,625.7 769.5,617.7 769.9,615.2 770.3,612.6 770.6,610.0 771.0,602.0 771.4,590.4 771.8,594.6 772.2,598.7 772.5,597.4 772.9,592.5 773.3,596.7 773.7,600.9 774.1,605.0 774.4,609.2 774.8,607.9 775.2,603.0 775.6,604.4 776.0,600.3 776.5,592.7 776.9,594.1 777.3,586.4 777.7,587.8 778.1,597.4 778.6,607.1 779.0,616.7 779.4,612.7 779.7,603.3 780.1,599.3 780.5,586.3 780.9,582.3 781.2,578.4 781.6,574.4 782.0,568.5 782.4,571.6 782.7,565.7 783.1,568.8 783.5,572.0 783.9,575.1 784.2,578.2 784.6,572.3 785.0,566.4 785.4,568.5 785.8,576.1 786.2,583.7 786.6,582.2 787.0,589.7 787.4,588.3 787.8,595.8 788.2,603.4 788.6,592.4 789.0,590.5 789.4,588.5 789.7,586.6 790.1,584.6 790.5,582.7 790.9,571.7 791.3,567.6 791.7,567.1 792.1,572.0 792.5,571.5 792.8,571.0 793.2,575.9 793.6,580.8 794.0,580.3 794.4,585.3 794.8,590.2 795.2,591.7 795.6,593.2 796.0,594.7 796.3,596.3 796.7,597.8 797.1,599.3 797.5,600.8 797.9,598.0 798.2,595.2 798.6,586.9 799.0,584.1 799.4,575.8 799.7,573.0 800.1,561.1 800.5,568.3 800.9,575.6 801.3,582.8 801.6,590.1 802.0,591.9 802.4,593.7 802.8,595.5 803.2,595.1 803.6,585.6 804.0,576.1 804.4,566.6 804.8,566.2 805.2,565.7 805.6,565.3 806.0,555.8 806.4,555.4 806.8,554.9 807.2,554.5 807.6,552.1 808.0,558.7 808.4,565.3 808.8,566.5 809.1,564.1 809.5,565.3 809.9,571.9 810.3,573.1 810.7,579.7 811.1,582.3 811.4,585.0 811.8,587.6 812.2,590.3 812.6,592.9 812.9,595.6 813.3,598.2 813.6,598.7 814.0,604.7 814.4,610.7 814.7,616.7 815.1,623.2 815.4,629.8 815.8,636.3 816.2,633.8 816.6,631.3 816.9,632.4 817.3,629.9 817.7,634.5 818.1,633.8 818.5,638.4 818.9,637.6 819.3,642.2 819.7,637.9 820.1,642.5 820.5,641.7 820.9,646.4 821.3,651.0 821.7,640.1 822.1,638.2 822.5,636.3 822.9,634.4 823.2,632.6 823.6,630.7 824.0,619.8 824.4,612.5 824.8,610.6 825.2,608.7 825.6,613.8 826.0,618.9 826.4,624.0 826.8,620.0 827.2,625.1 827.6,630.2 828.0,626.3 828.4,622.3 828.8,627.4 829.2,632.5 829.6,637.8 830.0,634.1 830.4,630.3 830.8,635.7 831.2,631.9 831.6,637.2 832.0,642.6 832.4,647.9 832.8,644.1 833.2,640.4 833.6,645.1 833.9,649.9 834.3,654.6 834.7,650.3 835.1,655.0 835.4,659.7 835.8,659.0 836.2,667.8 836.5,667.6 836.9,667.4 837.3,670.7 837.7,679.6 838.0,682.9 838.4,682.7 838.8,688.0 839.1,693.3 839.5,698.7 839.9,704.0 840.2,703.9 840.6,709.2 841.0,708.7 841.3,708.1 841.7,702.2 842.1,696.2 842.5,695.7 842.8,689.7 843.2,680.1 843.6,679.5 843.9,679.0 844.3,678.4 844.7,668.8 845.1,662.7 845.4,662.2 845.8,661.6 846.2,666.0 846.6,661.4 847.0,665.8 847.4,670.3 847.8,674.7 848.2,679.1 848.6,683.6 849.0,688.0 849.4,694.1 849.8,694.7 850.2,700.8 850.5,706.9 850.9,707.5 851.3,713.6 851.7,719.7 852.1,720.4 852.5,721.2 852.9,712.9 853.3,704.6 853.7,705.3 854.0,706.1 854.4,701.3 854.8,702.1 855.2,693.8 855.6,694.5 856.0,695.3 856.4,696.0 856.8,697.2 857.1,703.8 857.5,705.0 857.9,706.2 858.3,712.8 858.6,719.5 859.0,717.1 859.4,718.3 859.8,724.9 860.1,722.5 860.5,729.1 860.9,730.3 861.3,729.6 861.7,728.8 862.1,728.1 862.5,727.3 862.9,721.1 863.3,714.9 863.7,708.7 864.1,708.0 864.5,707.2 864.9,706.5 865.3,711.4 865.7,716.3 866.1,721.2 866.5,726.1 866.8,725.5 867.2,730.4 867.6,726.2 868.0,731.1 868.4,736.0 868.8,740.9 869.2,744.6 869.6,748.2 870.0,751.9 870.4,755.6 870.7,753.8 871.1,757.4 871.5,752.1 871.9,755.7 872.3,759.4 872.7,748.3 873.0,742.7 873.4,737.0 873.8,731.4 874.2,725.8 874.5,720.1 874.9,714.5 875.3,714.6 875.7,714.8 876.1,714.9 876.5,715.0 877.0,706.1 877.4,706.2 877.8,706.4 878.2,706.5 878.6,701.2 879.0,699.7 879.4,701.7 879.8,709.3 880.1,716.8 880.5,724.3 880.9,731.8 881.3,730.3 881.7,729.6 882.1,728.8 882.4,722.7 882.8,712.9 883.2,712.2 883.6,711.4 884.0,705.3 884.4,704.5 884.7,703.8 885.1,694.0 885.5,693.3 885.9,700.2 886.3,707.1 886.7,714.0 887.1,721.0 887.6,727.9 888.0,725.7 888.4,727.2 888.8,728.7 889.2,735.6 889.6,741.1 890.0,746.6 890.3,752.1 890.7,757.6 891.1,754.0 891.5,759.5 891.9,765.0 892.3,761.4 892.6,766.9 893.0,772.4 893.4,777.9 893.8,777.9 894.2,783.3 894.6,788.7 895.0,788.6 895.3,785.0 895.7,790.4 896.1,786.8 896.5,792.2 896.9,797.6 897.3,791.9 897.6,795.2 898.0,793.0 898.4,796.3 898.8,799.6 899.1,802.9 899.5,806.2 899.9,809.5 900.3,813.0 900.7,816.5 901.0,820.0 901.4,823.5 901.8,827.0 902.2,821.4 902.6,811.7 903.0,798.4 903.5,794.2 903.9,789.9 904.3,785.7 904.7,778.0 905.0,775.7 905.4,773.4 905.8,771.1 906.2,768.9 906.5,766.6 906.9,764.3 907.3,753.0 907.7,746.2 908.1,744.8 908.5,743.4 909.0,742.0 909.4,731.6 909.8,730.2 910.2,723.4 910.6,724.2 911.0,721.5 911.3,727.7 911.7,734.0 912.1,740.3 912.5,746.6 912.8,743.8 913.2,750.1 913.6,744.4 914.0,744.1 914.3,743.8 914.7,743.5 915.1,743.2 915.5,742.9 915.8,742.6 916.2,742.4 916.6,742.1 917.0,741.8 917.3,741.5 917.7,741.2 918.1,745.6 918.5,744.6 918.9,749.0 919.3,747.9 919.7,746.9 920.1,751.3 920.5,755.7 920.9,760.1 921.3,759.1 921.7,763.5 922.1,767.9 922.5,762.6 922.9,766.3 923.2,770.0 923.6,773.8 924.0,777.5 924.4,781.2 924.7,785.0 925.1,788.7 925.5,785.2 925.9,776.3 926.2,763.7 926.6,760.2 927.0,751.3 927.4,738.7 927.7,735.2 928.1,726.3 928.5,727.2 928.9,724.5 929.3,721.8 929.8,728.1 930.2,734.4 930.6,740.8 931.0,747.1 931.4,743.4 931.8,739.7 932.1,736.0 932.5,732.2 932.9,728.5 933.2,724.8 933.6,721.1 934.0,717.4 934.4,720.0 934.8,722.6 935.2,719.7 935.6,722.3 936.0,724.8 936.3,727.4 936.7,730.0 937.1,732.6 937.5,735.2 937.9,732.3 938.3,736.2 938.7,734.7 939.1,738.6 939.5,742.5 939.8,746.4 940.2,750.3 940.6,754.2 941.0,758.1 941.4,762.0 941.8,739.0 942.1,716.0 942.5,692.9 942.9,669.9 943.3,674.9 943.7,679.9 944.1,675.9 944.5,680.9 944.8,686.0 945.2,685.6 945.6,690.6 946.0,695.6 946.4,700.6 946.8,696.6 947.2,697.6 947.6,698.5 948.0,690.4 948.4,685.9 948.7,686.9 949.1,687.8 949.5,688.8 949.9,689.7 950.3,690.7 950.7,678.1 951.1,665.4 951.5,661.9 951.9,649.2 952.3,645.6 952.7,642.1 953.1,638.5 953.5,634.9 953.9,631.3 954.3,629.1 954.7,636.0 955.1,642.9 955.5,649.7 955.9,651.1 956.3,658.0 956.7,655.0 957.1,651.9 957.5,648.9 957.9,645.8 958.3,642.8 958.7,634.3 959.1,642.0 959.5,649.6 959.9,657.3 960.4,655.9 960.8,654.6 961.2,662.2 961.6,669.9 962.0,669.3 962.4,677.8 962.8,680.8 963.2,683.8 963.6,686.8 964.0,686.3 964.4,685.7 964.8,694.1 965.2,702.6 965.6,699.9 966.0,697.2 966.4,694.5 966.8,691.8 967.2,683.7 967.6,681.0 968.0,678.3 968.4,675.6 968.8,672.9 969.2,671.3 969.6,669.7 969.9,668.1 970.3,666.5 970.7,664.9 971.1,663.4 971.5,656.3 971.8,654.7 972.2,653.1 972.6,646.1 973.0,650.5 973.4,655.0 973.7,650.3 974.1,645.7 974.5,650.2 974.9,654.6 975.2,659.0 975.6,658.0 976.0,656.7 976.4,650.0 976.7,648.7 977.1,642.0 977.5,640.7 977.9,639.4 978.2,632.7 978.6,622.4 979.0,609.4 979.4,605.5 979.8,601.6 980.3,592.2 980.7,588.3 981.1,575.3 981.5,565.9 981.9,571.3 982.2,576.7 982.6,576.6 983.0,582.0 983.4,587.4 983.8,592.8 984.1,598.2 984.5,594.5 984.9,590.9 985.2,596.3 985.6,596.2 986.0,601.6 986.4,603.2 986.8,604.9 987.2,597.4 987.6,590.0 987.9,591.6 988.3,587.8 988.7,589.4 989.1,591.1 989.5,592.7 989.9,592.8 990.3,589.3 990.7,594.9 991.1,600.4 991.5,606.0 991.8,611.5 992.2,617.1 992.6,622.6 993.0,628.2 993.4,628.3 993.8,620.3 994.2,621.4 994.6,622.4 995.0,623.5 995.3,619.1 995.7,611.1 996.1,612.2 996.5,607.8 996.9,608.9 997.3,604.5 997.7,602.9 998.1,601.2 998.5,599.6 998.9,588.9 999.2,587.3 999.6,585.7 1000.0,584.1 1000.4,582.4 1000.8,580.8 1001.2,579.9 1001.6,579.0 1001.9,578.0 1002.3,577.1 1002.7,576.2 1003.1,576.9 1003.5,577.7 1003.9,578.4 1004.2,579.2 1004.6,579.9 1005.0,571.6 1005.4,572.4 1005.8,573.1 1006.2,580.4 1006.6,587.7 1007.1,585.9 1007.5,593.2 1007.9,591.5 1008.3,596.6 1008.7,601.6 1009.1,601.3 1009.5,606.3 1009.9,611.4 1010.3,616.5 1010.7,616.1 1011.1,621.2 1011.5,626.3 1011.9,622.3 1012.3,621.2 1012.7,620.1 1013.1,628.0 1013.5,626.9 1013.8,629.3 1014.2,637.3 1014.6,645.2 1015.0,653.1 1015.4,656.7 1015.8,660.2 1016.2,663.8 1016.5,661.9 1016.9,665.5 1017.3,669.1 1017.7,672.6 1018.1,676.2 1018.5,663.5 1018.9,659.9 1019.3,656.2 1019.7,647.1 1020.0,638.0 1020.4,628.9 1020.8,625.3 1021.2,616.2 1021.6,615.7 1022.0,618.9 1022.3,618.4 1022.7,627.0 1023.1,626.6 1023.5,635.2 1023.8,638.3 1024.2,646.9 1024.6,633.1 1025.0,628.3 1025.4,623.5 1025.8,618.7 1026.2,614.0 1026.6,609.2 1027.0,599.0 1027.4,588.8 1027.8,584.0 1028.2,579.2 1028.6,582.5 1029.0,585.9 1029.4,580.2 1029.8,583.6 1030.1,586.9 1030.5,590.2 1030.9,588.2 1031.3,591.5 1031.7,586.3 1032.0,586.6 1032.4,581.5 1032.8,581.7 1033.1,582.0 1033.5,582.3 1033.9,585.4 1034.2,588.4 1034.6,591.5 1035.0,594.5 1035.4,597.6 1035.8,600.6 1036.1,603.7 1036.5,597.7 1036.9,595.1 1037.3,583.5 1037.7,580.9 1038.1,572.8 1038.5,570.2 1038.9,558.6 1039.3,556.0 1039.7,544.4 1040.1,541.8 1040.5,539.2 1040.9,538.2 1041.3,542.6 1041.6,547.1 1042.0,546.1 1042.4,541.5 1042.8,545.9 1043.2,550.3 1043.5,554.8 1043.9,550.2 1044.3,554.6 1044.7,559.0 1045.0,563.5 1045.4,562.5 1045.8,566.9 1046.2,563.8 1046.5,551.6 1046.9,539.4 1047.3,536.2 1047.7,533.1 1048.0,529.9 1048.4,526.8 1048.8,514.6 1049.2,513.1 1049.6,517.1 1050.0,515.7 1050.4,519.6 1050.8,523.6 1051.2,527.6 1051.5,531.6 1051.9,535.6 1052.3,539.6 1052.7,543.5 1053.1,547.5 1053.5,551.5 1053.9,556.4 1054.2,561.2 1054.6,557.1 1055.0,561.9 1055.4,566.8 1055.8,562.6 1056.1,562.0 1056.5,566.9 1056.9,560.7 1057.3,551.0 1057.8,550.2 1058.2,540.5 1058.6,539.8 1059.0,530.0 1059.4,537.3 1059.8,544.6 1060.2,542.8 1060.6,544.7 1061.1,542.9 1061.5,541.1 1061.9,543.0 1062.3,550.3 1062.7,548.5 1063.1,557.9 1063.5,558.2 1063.9,562.2 1064.2,571.5 1064.6,575.5 1065.0,584.9 1065.4,594.3 1065.8,594.6 1066.2,588.3 1066.5,581.9 1066.9,570.2 1067.3,563.9 1067.7,557.5 1068.0,545.8 1068.4,539.4 1068.8,533.1 1069.2,534.1 1069.6,531.5 1070.0,532.5 1070.4,538.9 1070.8,536.3 1071.2,537.3 1071.5,543.7 1071.9,550.2 1072.3,556.6 1072.7,563.1 1073.1,569.5 1073.5,566.9 1073.9,553.8 1074.3,549.7 1074.7,545.6 1075.1,541.6 1075.5,528.5 1075.9,524.4 1076.3,511.3 1076.7,507.2 1077.1,494.1 1077.5,490.0 1077.9,496.0 1078.3,492.9 1078.7,493.4 1079.1,499.4 1079.5,499.9 1079.9,505.9 1080.3,511.9 1080.7,517.9 1081.1,523.8 1081.5,529.8 1081.9,535.8 1082.3,541.8 1082.7,542.3 1083.1,539.5 1083.5,536.7 1083.9,528.5 1084.2,525.6 1084.6,522.8 1085.0,520.0 1085.4,508.2 1085.8,505.4 1086.2,504.2 1086.6,503.0 1087.0,492.8 1087.3,486.2 1087.7,479.6 1088.1,478.4 1088.5,477.2 1088.9,476.1 1089.2,474.9 1089.6,473.7 1090.0,472.5 1090.4,462.3 1090.8,466.0 1091.2,469.8 1091.6,473.5 1091.9,468.2 1092.3,472.0 1092.7,470.3 1093.1,474.0 1093.5,477.7 1093.8,481.5 1094.2,476.2 1094.6,479.9 1095.0,474.6 1095.4,474.6 1095.8,480.1 1096.2,476.6 1096.5,482.1 1096.9,482.1 1097.3,487.6 1097.7,493.1 1098.1,498.6 1098.4,504.1 1098.8,509.6 1099.2,515.1 1099.6,511.5 1100.0,508.7 1100.4,500.5 1100.7,492.3 1101.1,489.5 1101.5,486.7 1101.9,483.9 1102.2,472.1 1102.6,469.3 1103.0,466.5 1103.4,462.6 1103.8,449.7 1104.2,436.7 1104.7,432.8 1105.1,428.9 1105.5,425.0 1105.9,422.9 1106.3,429.8 1106.7,436.8 1107.1,443.7 1107.5,445.2 1107.9,446.7 1108.3,450.7 1108.7,445.7 1109.1,440.7 1109.5,444.7 1109.9,448.7 1110.3,452.7 1110.7,439.5 1111.1,426.3 1111.5,413.1 1111.9,419.3 1112.3,431.0 1112.7,433.6 1113.1,436.2 1113.5,438.8 1113.9,436.7 1114.3,425.5 1114.6,417.9 1115.0,410.4 1115.4,399.2 1115.8,389.2 1116.2,379.2 1116.6,369.2 1117.0,353.8 1117.4,343.8 1117.8,334.6 1118.2,334.4 1118.6,334.2 1119.0,334.1 1119.4,333.9 1119.8,331.0 1120.2,333.6 1120.6,336.1 1121.0,333.2 1121.4,335.8 1121.8,336.6 1122.2,342.9 1122.6,343.8 1123.0,344.6 1123.4,345.4 1123.8,351.7 1124.2,361.5 1124.6,371.3 1124.9,372.0 1125.3,372.8 1125.7,373.5 1126.1,375.2 1126.5,376.8 1126.8,378.5 1127.2,380.2 1127.6,381.8 1128.0,378.1 1128.3,379.7 1128.7,381.4 1129.0,373.5 1129.4,365.5 1129.8,357.6 1130.1,349.7 1130.5,353.3 1130.8,356.9 1131.2,355.1 1131.6,358.7 1132.0,362.3 1132.3,365.9 1132.7,369.5 1133.1,377.5 1133.5,385.4 1134.0,393.4 1134.4,392.3 1134.8,400.3 1135.2,399.2 1135.6,399.4 1136.0,390.5 1136.3,390.6 1136.7,390.8 1137.1,391.0 1137.5,382.1 1137.8,373.2 1138.2,373.3 1138.6,373.5 1139.0,374.8 1139.3,370.6 1139.7,366.5 1140.1,362.3 1140.5,363.6 1140.8,364.9 1141.2,366.2 1141.6,367.5 1142.0,376.2 1142.4,375.8 1142.8,379.0 1143.2,378.6 1143.6,387.3 1144.0,390.9 1144.4,394.4 1144.8,398.0 1145.3,401.6 1145.7,396.1 1146.1,399.6 1146.5,403.2 1146.9,406.4 1147.3,406.0 1147.7,405.7 1148.1,414.3 1148.5,423.0 1148.9,421.6 1149.3,429.2 1149.7,436.9 1150.1,439.1 1150.5,446.7 1150.9,443.6 1151.2,440.6 1151.6,437.5 1152.0,434.4 1152.4,431.4 1152.8,428.3 1153.1,425.2 1153.5,413.1 1153.9,418.2 1154.3,423.4 1154.6,428.5 1155.0,433.7 1155.4,438.8 1155.8,445.7 1156.2,452.5 1156.6,459.4 1157.0,466.2 1157.4,473.1 1157.8,474.5 1158.2,468.4 1158.6,462.3 1159.0,456.2 1159.4,441.0 1159.8,434.9 1160.2,439.4 1160.6,434.9 1161.0,439.4 1161.4,443.9 1161.8,448.4 1162.2,453.0 1162.6,457.5 1163.0,462.0 1163.4,466.5 1163.8,470.4 1164.2,474.2 1164.5,472.7 1164.9,476.5 1165.3,480.4 1165.7,477.9 1166.0,475.5 1166.4,467.6 1166.8,465.1 1167.2,453.6 1167.5,451.2 1167.9,448.7 1168.3,440.8 1168.7,450.3 1169.0,450.8 1169.4,451.2 1169.8,460.8 1170.2,470.3 1170.5,474.3 1170.9,478.4 1171.3,469.7 1171.7,466.4 1172.0,457.7 1172.4,454.4 1172.8,451.1 1173.2,447.8 1173.5,435.5 1173.9,432.2 1174.3,428.9 1174.7,414.3 1175.1,403.4 1175.4,397.9 1175.8,392.4 1176.2,381.4 1176.6,388.1 1176.9,389.3 1177.3,387.0 1177.7,384.6 1178.1,391.3 1178.4,392.5 1178.8,399.2 1179.2,398.1 1179.6,402.5 1180.0,406.9 1180.4,411.3 1180.8,415.7 1181.2,420.1 1181.6,419.0 1182.0,424.5 1182.3,429.9 1182.7,426.4 1183.1,426.4 1183.5,431.9 1183.8,437.3 1184.2,442.8 1184.6,454.4 1185.1,456.9 1185.5,468.5 1185.9,456.4 1186.3,453.4 1186.7,450.3 1187.1,447.3 1187.5,435.2 1187.9,432.1 1188.3,420.0 1188.7,417.0 1189.1,421.3 1189.5,425.7 1189.9,430.0 1190.3,428.9 1190.7,424.1 1191.1,428.5 1191.5,427.4 1191.9,431.7 1192.3,430.6 1192.7,434.9 1193.1,434.3 1193.5,439.2 1193.9,444.1 1194.3,449.0 1194.8,453.9 1195.2,458.7 1195.6,463.6 1196.0,468.5 1196.4,467.8 1196.8,467.1 1197.1,466.4 1197.5,456.6 1197.9,455.9 1198.2,455.2 1198.6,454.5 1199.0,444.8 1199.4,454.2 1199.8,458.2 1200.3,467.7 1200.7,477.1 1201.1,476.5 1201.5,481.4 1201.9,486.3 1202.4,491.2 1202.8,487.1 1203.2,492.0 1203.6,491.4 1204.0,497.7 1204.4,504.1 1204.8,510.4 1205.1,507.7 1205.5,505.1 1205.9,511.4 1206.3,505.6 1206.7,499.9 1207.1,488.6 1207.5,482.9 1207.9,477.1 1208.3,471.8 1208.7,475.5 1209.1,473.7 1209.5,477.5 1209.9,481.2 1210.3,484.9 1210.7,488.6 1211.1,484.0 1211.5,482.9 1211.9,481.9 1212.3,486.3 1212.8,485.3 1213.2,489.7 1213.6,494.1 1214.0,498.5 1214.4,502.9 1214.8,499.5 1215.2,490.6 1215.6,487.2 1216.1,474.7 1216.5,462.3 1216.9,453.4 1217.3,450.0 1217.7,448.2 1218.1,449.9 1218.5,457.1 1218.9,455.3 1219.3,457.0 1219.7,464.2 1220.1,471.4 1220.5,473.3 1220.9,475.2 1221.3,477.1 1221.7,479.0 1222.0,481.0 1222.4,482.9 1222.8,484.8 1223.2,486.7 1223.6,488.6 1224.0,495.7 1224.4,502.9 1224.8,501.0 1225.2,508.1 1225.6,506.2 1226.0,504.3 1226.4,511.4 1226.8,519.5 1227.2,522.2 1227.6,530.3 1228.1,533.0 1228.5,532.1 1228.9,534.8 1229.3,542.9 1229.7,540.8 1230.0,529.7 1230.3,527.5 1230.7,520.0 1231.1,526.1 1231.5,532.1 1231.9,538.2 1232.3,538.8 1232.8,535.8 1233.2,541.8 1233.6,547.9 1234.0,553.9 1234.4,560.0 1234.8,550.1 1235.2,549.3 1235.6,539.4 1236.0,533.2 1236.3,532.3 1236.7,522.5 1237.1,521.6 1237.5,520.8 1237.9,520.0 1238.3,518.4 1238.7,525.7 1239.0,524.1 1239.4,531.5 1239.8,533.5 1240.2,540.8 1240.6,548.2 1241.0,555.6 1241.3,554.0 1241.7,555.9 1242.1,554.3 1242.5,554.5 1242.9,560.2 1243.3,565.9 1243.8,571.6 1244.2,577.2 1244.6,582.9 1245.0,588.6 1245.4,592.3 1245.8,596.1 1246.2,594.4 1246.7,598.1 1247.1,601.8 1247.5,605.6 1247.9,609.3 1248.2,616.9 1248.6,615.6 1248.9,623.2 1249.3,630.9 1249.7,638.6 1250.0,646.2 1250.4,648.5 1250.8,647.1 1251.2,645.7 1251.5,644.4 1251.9,643.0 1252.3,640.9 1252.7,638.7 1253.0,645.6 1253.4,652.5 1253.8,659.4 1254.2,660.9 1254.5,667.8 1254.9,674.7 1255.3,666.1 1255.7,666.5 1256.0,667.0 1256.4,658.4 1256.8,658.8 1257.2,655.8 1257.5,643.8 1257.9,631.7 1258.3,628.8 1258.7,625.8 1259.0,613.7 1259.4,605.3 1259.8,613.4 1260.1,621.5 1260.5,624.2 1260.8,626.9 1261.2,635.0 1261.6,640.6 1261.9,640.8 1262.3,637.4 1262.7,634.0 1263.1,639.6 1263.4,645.3 1263.8,650.9 1264.2,646.8 1264.6,637.3 1264.9,633.2 1265.3,629.2 1265.7,625.1 1266.1,632.0 1266.4,633.4 1266.8,640.3 1267.2,647.2 1267.6,645.0 1267.9,651.9 1268.3,658.8 1268.7,656.3 1269.1,653.9 1269.5,646.0 1269.9,643.5 1270.3,641.0 1270.7,633.1 1271.1,633.8 1271.5,634.5 1271.9,635.3 1272.3,626.9 1272.7,627.7 1273.1,628.4 1273.5,629.1 1273.9,629.8 1274.3,625.1 1274.7,609.3 1275.1,601.7 1275.5,599.5 1275.8,597.3 1276.2,589.7 1276.6,587.5 1276.9,583.9 1277.3,580.3 1277.6,567.7 1278.0,569.7 1278.4,571.8 1278.8,564.8 1279.2,557.8 1279.6,559.8 1280.0,559.4 1280.3,553.5 1280.7,547.6 1281.1,547.2 1281.5,541.3 1281.8,540.9 1282.2,540.4 1282.6,540.0 1283.0,529.2 1283.4,523.9 1283.8,513.1 1284.2,507.8 1284.6,502.4 1285.0,497.1 1285.4,496.2 1285.8,486.2 1286.2,485.2 1286.7,484.3 1287.1,474.3 1287.5,464.3 1287.9,454.3 1288.3,453.6 1288.7,443.8 1289.1,443.1 1289.5,436.9 1289.9,427.1 1290.3,426.4 1290.7,425.7 1291.2,411.9 1291.6,394.5 1292.0,399.0 1292.3,399.9 1292.7,409.9 1293.0,419.8 1293.4,429.8 1293.8,427.1 1294.2,415.4 1294.5,412.7 1294.9,410.0 1295.3,413.3 1295.6,416.6 1296.0,419.9 1296.4,423.2 1296.7,426.5 1297.1,429.8 1297.5,436.2 1297.8,442.7 1298.2,443.7 1298.6,450.1 1298.9,447.6 1299.3,454.0 1299.7,449.8 1300.1,445.6 1300.5,441.4 1301.0,431.7 1301.4,418.4 1301.8,414.2 1302.2,410.0 1302.6,407.7 1302.9,405.3 1303.3,403.0 1303.7,395.2 1304.1,383.8 1304.4,381.4 1304.8,379.1 1305.2,379.4 1305.5,388.7 1305.9,398.0 1306.3,398.2 1306.6,398.5 1307.0,407.8 1307.4,396.8 1307.7,391.3 1308.1,385.7 1308.5,392.6 1308.9,399.5 1309.3,401.0 1309.8,407.9 1310.2,414.8 1310.6,421.7 1311.0,423.2 1311.4,429.9 1311.7,431.3 1312.1,438.0 1312.5,444.8 1312.9,451.5 1313.2,458.3 1313.6,465.0 1314.0,460.6 1314.4,456.3 1314.8,451.9 1315.2,447.5 1315.7,443.2 1316.1,438.8 1316.5,434.4 1316.9,421.0 1317.3,424.9 1317.7,428.8 1318.1,432.7 1318.6,436.6 1319.0,440.6 1319.4,435.4 1319.8,439.3 1320.2,434.2 1320.6,426.7 1320.9,419.3 1321.3,420.9 1321.7,422.5 1322.0,415.0 1322.4,416.6 1322.8,417.7 1323.2,413.4 1323.6,414.5 1323.9,415.7 1324.3,416.8 1324.7,408.9 1325.1,410.0 1325.5,406.1 1325.9,396.7 1326.3,392.8 1326.8,388.9 1327.2,385.0 1327.6,372.0 1328.0,368.1 1328.4,373.6 1328.8,379.1 1329.2,384.6 1329.7,390.1 1330.1,395.7 1330.5,401.2 1330.9,406.7 1331.3,412.2 1331.7,419.5 1332.1,426.9 1332.5,428.7 1332.9,427.0 1333.3,434.4 1333.7,441.7 1334.1,449.0 1334.5,450.9 1334.9,458.2 1335.3,456.5 1335.7,458.4 1336.1,455.8 1336.5,444.2 1336.9,441.7 1337.3,439.1 1337.7,436.5 1338.0,424.9 1338.4,422.3 1338.8,419.8 1339.2,417.2 1339.6,405.6 1340.0,409.9 1340.4,414.2 1340.8,418.5 1341.1,422.8 1341.5,418.1 1341.9,416.9 1342.3,412.2 1342.7,402.3 1343.1,396.0 1343.5,389.7 1343.9,383.4 1344.4,377.1 1344.8,370.8 1345.2,370.0 1345.6,363.7 1346.0,368.9 1346.3,374.0 1346.7,370.2 1347.1,375.4 1347.4,380.5 1347.8,385.7 1348.2,380.3 1348.5,380.4 1348.9,371.4 1349.3,362.4 1349.6,357.0 1350.0,357.1 1350.4,360.0 1350.8,368.4 1351.2,367.7 1351.6,367.0 1352.0,375.4 1352.4,383.7 1352.8,386.6 1353.2,389.6 1353.6,388.9 1354.0,397.2 1354.4,405.6 1354.8,406.4 1355.2,412.7 1355.6,409.9 1356.1,410.7 1356.5,411.5 1356.9,408.7 1357.3,415.0 1357.7,412.2 1358.1,411.0 1358.5,409.7 1358.9,408.5 1359.3,407.3 1359.7,406.0 1360.1,404.8 1360.5,398.1 1360.9,396.9 1361.3,390.2 1361.7,383.5 1362.1,375.3 1362.5,372.5 1362.9,369.6 1363.3,366.8 1363.8,364.0 1364.2,355.8 1364.6,347.5 1365.0,335.7 1365.4,332.9 1365.8,335.1 1366.2,337.3 1366.6,348.6 1367.1,350.8 1367.5,362.0 1367.9,364.2 1368.3,370.0 1368.7,381.3 1369.1,374.7 1369.4,368.2 1369.8,361.6 1370.2,355.1 1370.5,339.5 1370.9,332.9 1371.3,326.5 1371.6,314.6 1372.0,308.2 1372.3,301.8 1372.7,295.4 1373.1,300.8 1373.4,306.2 1373.8,311.5 1374.2,316.9 1374.6,322.3 1374.9,327.7 1375.3,324.0 1375.7,331.2 1376.1,338.4 1376.5,345.6 1376.9,352.8 1377.4,360.0 1377.8,358.1 1378.2,365.3 1378.6,372.5 1379.0,364.5 1379.4,356.6 1379.8,354.1 1380.2,346.1 1380.6,344.1 1381.0,342.0 1381.4,349.0 1381.8,356.0 1382.2,354.0 1382.5,361.0 1382.9,368.0 1383.3,369.5 1383.7,376.5 1384.1,383.5 1384.5,380.7 1384.8,377.9 1385.2,369.7 1385.6,361.5 1385.9,358.7 1386.3,350.5 1386.7,351.3 1387.0,352.0 1387.4,358.3 1387.8,364.5 1388.1,370.7 1388.5,376.9 1388.9,365.8 1389.3,354.8 1389.7,352.8 1390.2,350.8 1390.6,348.8 1391.0,341.3 1391.4,339.3 1391.8,337.3 1392.2,345.3 1392.6,353.2 1393.0,355.7 1393.4,363.7 1393.8,350.0 1394.2,336.2 1394.7,327.9 1395.1,319.6 1395.5,316.2 1395.9,318.3 1396.3,320.4 1396.8,322.4 1397.2,324.5 1397.6,326.6 1398.0,328.6 1398.4,330.7 1398.8,337.0 1399.1,334.3 1399.5,331.6 1399.9,337.9 1400.2,344.2 1400.6,350.5 1401.0,344.8 1401.4,348.2 1401.8,351.5 1402.2,354.9 1402.7,349.2 1403.1,352.6 1403.5,355.9 1403.9,359.3 1404.2,355.2 1404.6,360.1 1404.9,359.6 1405.3,357.6 1405.7,361.1 1406.1,364.6 1406.5,368.0 1406.9,371.5 1407.3,372.1 1407.7,372.6 1408.0,373.2 1408.4,373.8 1408.8,368.9 1409.2,369.5 1409.5,370.1 1409.9,361.6 1410.3,368.0 1410.7,374.4 1411.1,371.7 1411.6,369.1 1412.0,370.1 1412.4,376.4 1412.8,377.4 1413.2,383.4 1413.6,394.8 1414.0,400.8 1414.4,403.1 1414.8,409.1 1415.2,412.9 1415.6,422.1 1416.0,425.8 1416.4,435.0 1416.8,438.8 1417.2,446.9 1417.6,445.9 1418.0,454.0 1418.4,456.6 1418.8,452.9 1419.2,449.2 1419.6,440.0 1419.9,436.3 1420.3,432.6 1420.7,428.9 1421.1,431.9 1421.5,425.9 1421.8,429.0 1422.2,422.9 1422.6,426.0 1423.0,429.0 1423.3,423.0 1423.7,417.0 1424.1,426.6 1424.5,436.2 1424.9,440.4 1425.3,444.5 1425.7,448.7 1426.1,447.4 1426.5,446.1 1426.9,439.4 1427.3,438.1 1427.7,436.8 1428.1,436.9 1428.5,446.0 1428.9,449.8 1429.3,458.9 1429.7,462.6 1430.1,459.3 1430.5,465.1 1430.8,470.9 1431.2,476.6 1431.6,482.4 1431.9,474.8 1432.3,467.3 1432.6,450.7 1433.0,456.5 1433.4,467.8 1433.8,473.6 1434.2,484.9 1434.6,496.2 1435.0,492.8 1435.4,489.4 1435.8,486.0 1436.2,473.6 1436.6,470.2 1437.0,457.8 1437.4,454.4 1437.8,445.6 1438.2,442.2 1438.6,438.8 1439.0,440.3 1439.4,441.8 1439.8,439.7 1440.1,446.7 1440.5,453.6 1440.9,460.6 1441.3,458.1 1441.6,455.7 1442.0,453.2 1442.4,445.3 1442.8,442.9 1443.1,440.4 1443.5,428.9 1443.9,411.8 1444.3,403.7 1444.7,395.6 1445.1,387.5 1445.5,379.4 1445.9,381.6 1446.3,383.8 1446.7,391.4 1447.1,399.0 1447.5,401.2 1447.9,401.2 1448.3,395.8 1448.7,386.8 1449.1,386.8 1449.5,381.4 1449.9,381.7 1450.3,387.5 1450.7,384.2 1451.1,389.9 1451.5,395.7 1451.8,401.4 1452.2,407.2 1452.6,407.5 1453.0,413.2 1453.4,419.0 1453.8,417.4 1454.2,424.9 1454.6,432.3 1455.0,439.8 1455.4,447.3 1455.8,445.7 1456.2,453.2 1456.6,460.6 1457.0,468.1 1457.4,466.5 1457.8,453.2 1458.1,443.5 1458.5,439.2 1458.8,434.9 1459.2,426.1 1459.6,422.8 1460.0,410.4 1460.5,398.0 1460.9,394.6 1461.3,391.3 1461.7,395.0 1462.1,393.4 1462.4,397.1 1462.8,395.4 1463.2,399.2 1463.6,393.9 1463.9,397.6 1464.3,401.4 1464.7,405.1 1465.1,402.4 1465.5,399.8 1465.9,388.1 1466.3,385.4 1466.7,373.7 1467.1,371.0 1467.5,368.4 1467.9,365.7 1468.3,357.6 1468.7,362.3 1469.1,366.9 1469.5,366.2 1470.0,365.4 1470.4,370.1 1470.8,374.7 1471.2,379.4 1471.6,379.1 1472.0,378.9 1472.3,378.6 1472.7,378.4 1473.1,378.1 1473.5,377.9 1473.8,377.6 1474.2,377.4 1474.6,384.2 1475.0,391.0 1475.4,397.8 1475.8,395.5 1476.2,402.3 1476.6,409.1 1477.0,413.0 1477.3,407.9 1477.7,406.3 1478.1,410.3 1478.5,408.7 1478.8,407.2 1479.2,411.1 1479.6,408.8 1480.0,406.5 1480.4,404.2 1480.8,401.9 1481.2,399.5 1481.5,397.2 1481.9,389.5 1482.3,378.1 1482.7,375.8 1483.1,373.5 1483.5,379.9 1483.8,386.3 1484.2,387.3 1484.6,393.7 1485.0,400.1 1485.3,406.5 1485.7,403.8 1486.1,401.2 1486.5,389.9 1486.9,378.6 1487.3,367.3 1487.7,361.4 1488.1,355.6 1488.5,349.7 1488.9,347.9 1489.3,346.1 1489.7,344.2 1490.1,342.4 1490.4,349.6 1490.8,356.9 1491.2,355.1 1491.6,362.3 1492.0,369.5 1492.4,369.4 1492.8,360.3 1493.1,360.2 1493.5,351.1 1493.9,351.1 1494.2,341.9 1494.6,341.9 1495.0,341.8 1495.4,339.9 1495.8,338.0 1496.2,336.1 1496.6,334.2 1496.9,323.3 1497.3,321.4 1497.7,314.1 1498.1,312.2 1498.5,310.3 1498.9,309.3 1499.3,308.3 1499.8,298.3 1500.2,291.9 1500.6,290.9 1501.0,287.1 1501.3,283.4 1501.7,279.6 1502.1,275.8 1502.5,272.0 1502.8,268.3 1503.2,264.5 1503.6,267.2 1503.9,275.4 1504.3,283.5 1504.6,286.2 1505.0,294.4 1505.4,288.5 1505.8,291.7 1506.3,294.8 1506.7,298.0 1507.1,296.3 1507.5,289.2 1507.8,282.0 1508.2,274.9 1508.6,273.2 1509.0,271.5 1509.4,263.3 1509.7,260.5 1510.1,257.7 1510.4,255.0 1510.8,252.2 1511.2,258.4 1511.7,255.6 1512.1,261.8 1512.5,268.0 1512.9,250.2 1513.4,241.5 1513.8,232.8 1514.2,232.4 1514.5,222.9 1514.9,222.5 1515.3,222.0 1515.7,221.6 1516.0,212.1 1516.4,211.7 1516.8,214.4 1517.1,222.6 1517.5,230.8 1517.8,229.9 1518.2,238.1 1518.6,242.9 1518.9,238.7 1519.3,238.1 1519.7,243.0 1520.1,247.8 1520.4,252.7 1520.8,257.5 1521.2,250.9 1521.6,247.8 1522.0,241.2 1522.3,238.1 1522.7,240.5 1523.1,242.9 1523.5,239.9 1523.9,245.2 1524.2,250.4 1524.6,255.7 1525.0,261.0 1525.4,266.3 1525.7,271.5 1526.1,276.8 1526.5,267.1 1526.8,266.4 1527.2,265.7 1527.6,265.0 1528.0,264.3 1528.3,254.6 1528.7,253.9 1529.1,254.0 1529.5,254.0 1529.9,248.6 1530.2,248.7 1530.6,248.7 1531.0,248.8 1531.4,243.4 1531.8,244.7 1532.1,237.0 1532.5,238.3 1532.9,239.7 1533.3,241.0 1533.6,233.3 1534.0,234.6 1534.4,238.1 1534.8,241.6 1535.3,245.1 1535.7,254.0 1536.1,253.9 1536.5,259.5 1536.9,265.1 1537.2,270.8 1537.6,276.4 1538.0,273.0 1538.4,278.6 1538.8,276.1 1539.2,273.6 1539.6,262.1 1540.0,259.6 1540.3,248.1 1540.7,245.6 1541.1,243.1 1541.5,240.6 1541.9,238.1 1542.3,240.2 1542.6,242.4 1543.0,239.1 1543.3,241.3 1543.7,243.4 1544.1,247.8 1544.5,252.2 1544.8,256.6 1545.2,261.0 1545.6,265.4 1546.0,269.8 1546.4,273.8 1546.8,277.7 1547.3,281.7 1547.7,285.6 1548.1,281.8 1548.4,278.0 1548.8,265.2 1549.2,261.5 1549.5,257.7 1549.9,253.9 1550.3,252.5 1550.8,260.1 1551.2,267.6 1551.6,269.8 1552.0,268.6 1552.4,261.9 1552.8,251.6 1553.2,250.4 1553.6,249.2 1554.0,247.9 1554.4,241.3 1554.8,234.6 1555.2,239.4 1555.7,240.6 1556.1,250.8 1556.5,261.0 1556.9,249.5 1557.2,241.6 1557.6,239.1 1558.0,227.6 1558.3,219.7 1558.7,208.2 1559.1,215.9 1559.4,223.6 1559.8,222.2 1560.2,220.8 1560.6,228.5 1560.9,227.2 1561.3,225.8 1561.7,224.9 1562.1,227.5 1562.5,226.6 1562.9,234.7 1563.2,242.8 1563.6,250.9 1564.0,259.0 1564.4,261.7 1564.8,269.8 1565.2,261.0 1565.5,252.2 1565.9,243.4 1566.2,234.6 1566.6,225.8 1567.0,225.6 1567.3,216.4 1567.7,207.2 1568.1,207.0 1568.5,206.9 1568.8,201.3 1569.2,201.1 1569.5,199.6 1569.9,207.2 1570.2,214.7 1570.6,222.3 1571.0,217.4 1571.3,212.4 1571.7,207.5 1572.0,202.5 1572.4,197.6 1572.8,195.7 1573.2,202.8 1573.7,209.9 1574.1,211.6 1574.5,218.7 1574.9,225.8 1575.3,226.6 1575.7,223.8 1576.1,221.0 1576.5,227.3 1576.8,233.6 1577.2,239.8 1577.6,246.1 1578.0,246.9 1578.4,245.2 1578.8,238.1 1579.2,236.4 1579.5,229.3 1579.9,218.6 1580.3,216.9 1580.7,215.2 1581.1,219.6 1581.6,224.0 1582.0,228.4 1582.4,232.8 1582.8,223.0 1583.2,218.7 1583.6,209.0 1583.9,195.6 1584.3,191.3 1584.7,187.0 1585.1,194.5 1585.5,202.0 1586.0,200.4 1586.4,202.4 1586.8,209.9 1587.2,208.0 1587.6,215.1 1588.0,222.3 1588.4,224.0 1588.8,230.3 1589.2,236.6 1589.6,242.8 1590.0,249.1 1590.4,255.4 1590.8,258.9 1591.1,262.3 1591.5,265.8 1591.9,256.7 1592.3,256.7 1592.7,256.7 1593.0,251.2 1593.4,245.7 1593.8,236.6 1594.2,236.6 1594.6,247.2 1595.0,248.7 1595.3,253.9 1595.7,255.4 1596.1,252.7 1596.5,244.6 1597.0,241.9 1597.4,239.3 1597.8,236.6 1598.2,240.5 1598.6,244.4 1599.0,248.3 1599.3,252.2 1599.7,256.2 1600.1,260.1 1600.5,264.0 1600.9,267.9 1601.3,268.9 1601.7,266.4 1602.2,267.4 1602.6,273.9 1603.0,280.4 1603.4,285.9 1603.8,285.9 1604.2,291.4 1604.5,287.8 1604.9,293.3 1605.3,298.8 1605.7,304.2 1606.1,309.7 1606.5,296.0 1606.9,291.4 1607.4,286.8 1607.8,282.2 1608.2,272.1 1608.6,269.6 1609.0,267.1 1609.4,264.6 1609.7,262.1 1610.1,254.1 1610.5,251.6 1610.9,249.1 1611.3,259.0 1611.7,259.8 1612.0,269.7 1612.4,279.6 1612.8,280.4 1613.2,276.2 1613.6,272.0 1613.9,267.8 1614.3,254.5 1614.7,244.9 1615.1,240.7 1615.5,241.9 1615.9,248.5 1616.3,255.1 1616.8,261.6 1617.2,268.2 1617.6,265.8 1618.0,256.5 1618.5,247.2 1618.9,232.4 1619.3,239.6 1619.7,246.7 1620.2,248.4 1620.6,255.6 1621.0,253.7 1621.4,255.4 1621.8,257.6 1622.2,259.8 1622.7,262.0 1623.1,264.2 1623.5,266.4 1623.9,259.5 1624.3,246.7 1624.7,228.4 1625.2,215.6 1625.6,193.7 1626.0,171.8 1626.4,177.5 1626.8,183.2 1627.2,183.4 1627.6,180.1 1628.0,168.0 1628.4,161.4 1628.9,154.8 1629.3,148.1 1629.7,141.5 1630.1,140.5 1630.5,140.5 1631.0,145.5 1631.4,152.9 1631.8,160.2 1632.2,167.6 1632.6,167.9 1633.0,168.1 1633.5,173.8 1633.9,179.6 1634.3,179.8 1634.7,180.1 1635.1,175.4 1635.6,170.7 1636.0,166.0 1636.4,161.3 1636.8,152.7 1637.2,153.1 1637.7,148.0 1638.1,148.4 1638.5,148.8 1638.9,156.3 1639.3,154.8 1639.8,162.2 1640.2,169.7 1640.6,171.8 1641.0,182.0 1641.4,192.2 1641.8,196.9 1642.3,207.1 1642.7,208.3 1643.1,209.4" fill="none" stroke="#086e08" stroke-width="2.8" stroke-linejoin="miter"/>
<line x1="406.5" y1="777.5" x2="1644.5" y2="777.5" stroke="#000" stroke-width="1"/>
<rect x="406.5" y="140.5" width="1238.0" height="688.0" fill="none" stroke="#000" stroke-width="1"/>
<path d="M406.5 816.5V840.5M406.5 140.5V152.5M445.5 822.5V834.5M445.5 140.5V146.5M484.5 822.5V834.5M484.5 140.5V146.5M523.5 822.5V834.5M523.5 140.5V146.5M562.5 822.5V834.5M562.5 140.5V146.5M602.5 816.5V840.5M602.5 140.5V152.5M641.5 822.5V834.5M641.5 140.5V146.5M680.5 822.5V834.5M680.5 140.5V146.5M719.5 822.5V834.5M719.5 140.5V146.5M758.5 822.5V834.5M758.5 140.5V146.5M797.5 816.5V840.5M797.5 140.5V152.5M836.5 822.5V834.5M836.5 140.5V146.5M875.5 822.5V834.5M875.5 140.5V146.5M914.5 822.5V834.5M914.5 140.5V146.5M953.5 822.5V834.5M953.5 140.5V146.5M993.5 816.5V840.5M993.5 140.5V152.5M1032.5 822.5V834.5M1032.5 140.5V146.5M1071.5 822.5V834.5M1071.5 140.5V146.5M1110.5 822.5V834.5M1110.5 140.5V146.5M1149.5 822.5V834.5M1149.5 140.5V146.5M1188.5 816.5V840.5M1188.5 140.5V152.5M1227.5 822.5V834.5M1227.5 140.5V146.5M1266.5 822.5V834.5M1266.5 140.5V146.5M1305.5 822.5V834.5M1305.5 140.5V146.5M1344.5 822.5V834.5M1344.5 140.5V146.5M1384.5 816.5V840.5M1384.5 140.5V152.5M1423.5 822.5V834.5M1423.5 140.5V146.5M1462.5 822.5V834.5M1462.5 140.5V146.5M1501.5 822.5V834.5M1501.5 140.5V146.5M1540.5 822.5V834.5M1540.5 140.5V146.5M1579.5 816.5V840.5M1579.5 140.5V152.5M1618.5 822.5V834.5M1618.5 140.5V146.5M400.5 818.5H412.5M1638.5 818.5H1650.5M400.5 777.5H412.5M1638.5 777.5H1650.5M400.5 736.5H412.5M1638.5 736.5H1650.5M400.5 695.5H412.5M1638.5 695.5H1650.5M400.5 653.5H412.5M1638.5 653.5H1650.5M400.5 612.5H412.5M1638.5 612.5H1650.5M400.5 571.5H412.5M1638.5 571.5H1650.5M400.5 530.5H412.5M1638.5 530.5H1650.5M400.5 489.5H412.5M1638.5 489.5H1650.5M400.5 447.5H412.5M1638.5 447.5H1650.5M400.5 406.5H412.5M1638.5 406.5H1650.5M400.5 365.5H412.5M1638.5 365.5H1650.5M400.5 324.5H412.5M1638.5 324.5H1650.5M400.5 283.5H412.5M1638.5 283.5H1650.5M400.5 241.5H412.5M1638.5 241.5H1650.5M400.5 200.5H412.5M1638.5 200.5H1650.5M400.5 159.5H412.5M1638.5 159.5H1650.5M394.5 777.5H418.5M1632.5 777.5H1656.5M394.5 650.5H418.5M1632.5 650.5H1656.5M394.5 522.5H418.5M1632.5 522.5H1656.5M394.5 395.5H418.5M1632.5 395.5H1656.5M394.5 267.5H418.5M1632.5 267.5H1656.5M394.5 140.5H418.5M1632.5 140.5H1656.5" stroke="#000" stroke-width="1" fill="none"/>
<text x="384" y="146.5" text-anchor="end" font-size="20" font-family="Liberation Sans" fill="#000">$773</text>
<text x="1667" y="146.5" text-anchor="start" font-size="20" font-family="Liberation Sans" fill="#000">$773</text>
<text x="384" y="273.9" text-anchor="end" font-size="20" font-family="Liberation Sans" fill="#000">$619</text>
<text x="1667" y="273.9" text-anchor="start" font-size="20" font-family="Liberation Sans" fill="#000">$619</text>
<text x="384" y="401.3" text-anchor="end" font-size="20" font-family="Liberation Sans" fill="#000">$464</text>
<text x="1667" y="401.3" text-anchor="start" font-size="20" font-family="Liberation Sans" fill="#000">$464</text>
<text x="384" y="528.7" text-anchor="end" font-size="20" font-family="Liberation Sans" fill="#000">$309</text>
<text x="1667" y="528.7" text-anchor="start" font-size="20" font-family="Liberation Sans" fill="#000">$309</text>
<text x="384" y="656.1" text-anchor="end" font-size="20" font-family="Liberation Sans" fill="#000">$155</text>
<text x="1667" y="656.1" text-anchor="start" font-size="20" font-family="Liberation Sans" fill="#000">$155</text>
<text x="384" y="783.5" text-anchor="end" font-size="20" font-family="Liberation Sans" fill="#000">$0</text>
<text x="1667" y="783.5" text-anchor="start" font-size="20" font-family="Liberation Sans" fill="#000">$0</text>
<text transform="translate(405.5,875) rotate(-65)" text-anchor="middle" dy="7" font-size="19" font-family="Liberation Sans" fill="#000">0</text>
<text transform="translate(601.0,875) rotate(-65)" text-anchor="middle" dy="7" font-size="19" font-family="Liberation Sans" fill="#000">500</text>
<text transform="translate(796.5,875) rotate(-65)" text-anchor="middle" dy="7" font-size="19" font-family="Liberation Sans" fill="#000">1000</text>
<text transform="translate(992.0,875) rotate(-65)" text-anchor="middle" dy="7" font-size="19" font-family="Liberation Sans" fill="#000">1500</text>
<text transform="translate(1187.5,875) rotate(-65)" text-anchor="middle" dy="7" font-size="19" font-family="Liberation Sans" fill="#000">2000</text>
<text transform="translate(1383.0,875) rotate(-65)" text-anchor="middle" dy="7" font-size="19" font-family="Liberation Sans" fill="#000">2500</text>
<text transform="translate(1578.5,875) rotate(-65)" text-anchor="middle" dy="7" font-size="19" font-family="Liberation Sans" fill="#000">3000</text>
<text x="997" y="105" text-anchor="middle" font-size="39" font-weight="bold" font-family="Liberation Sans" fill="#000">Winnings</text>
<text transform="translate(312,484) rotate(-90)" text-anchor="middle" font-size="33.5" font-weight="bold" font-family="Liberation Sans" fill="#000">Dollars</text>
</svg>
</body></html>
